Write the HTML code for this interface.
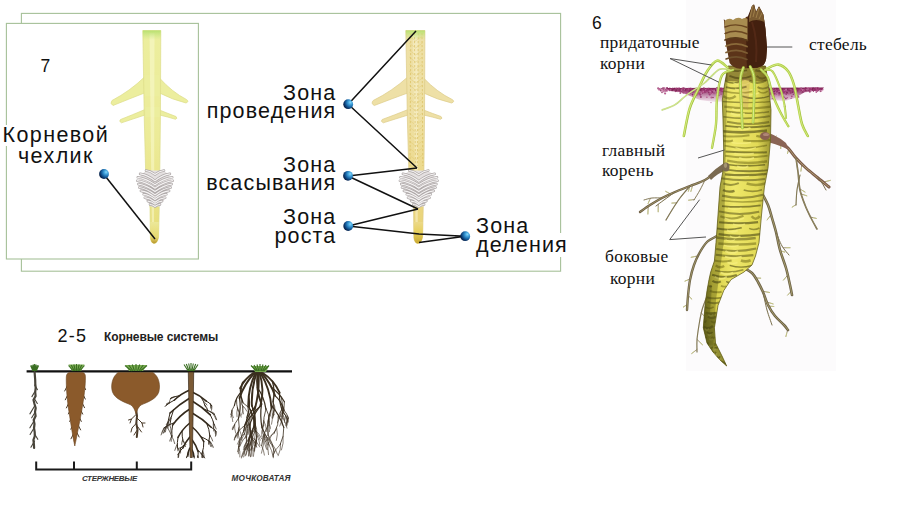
<!DOCTYPE html>
<html><head><meta charset="utf-8"><style>
html,body{margin:0;padding:0;background:#fff;}
body{width:910px;height:512px;position:relative;overflow:hidden;}
.s{position:absolute;font-family:"Liberation Sans",sans-serif;color:#111;white-space:nowrap;}
.z{font-size:21.5px;letter-spacing:1.15px;line-height:18.2px;text-align:right;}
.t{position:absolute;font-family:"Liberation Serif",serif;color:#111;white-space:nowrap;font-size:17.4px;line-height:21px;letter-spacing:0.3px;}
svg{position:absolute;left:0;top:0;}
</style></head><body>
<svg width="910" height="512" viewBox="0 0 910 512">
<defs>
<radialGradient id="dot" cx="0.72" cy="0.35" r="0.78" fx="0.72" fy="0.3">
 <stop offset="0" stop-color="#8ad8fb"/>
 <stop offset="0.25" stop-color="#45a6de"/>
 <stop offset="0.55" stop-color="#1a68a8"/>
 <stop offset="0.8" stop-color="#0a3468"/>
 <stop offset="1" stop-color="#04183a"/>
</radialGradient>
<linearGradient id="rootL" gradientUnits="userSpaceOnUse" x1="0" y1="30" x2="0" y2="244">
 <stop offset="0" stop-color="#ecee9e"/>
 <stop offset="0.5" stop-color="#eceb98"/>
 <stop offset="0.75" stop-color="#eae48a"/>
 <stop offset="1" stop-color="#e6dc78"/>
</linearGradient>
<linearGradient id="rootLx" x1="0" y1="0" x2="1" y2="0">
 <stop offset="0" stop-color="#fff" stop-opacity="0"/>
 <stop offset="0.45" stop-color="#fff" stop-opacity="0.35"/>
 <stop offset="1" stop-color="#c8c060" stop-opacity="0.25"/>
</linearGradient>
<linearGradient id="rootM" gradientUnits="userSpaceOnUse" x1="0" y1="30" x2="0" y2="244">
 <stop offset="0" stop-color="#eee0a6"/>
 <stop offset="0.45" stop-color="#eedfa0"/>
 <stop offset="0.7" stop-color="#ecd888"/>
 <stop offset="1" stop-color="#e8d272"/>
</linearGradient>
<linearGradient id="tipM" x1="0" y1="0" x2="0" y2="1">
 <stop offset="0" stop-color="#ecd98a"/>
 <stop offset="0.5" stop-color="#e6cf5a"/>
 <stop offset="1" stop-color="#c9a830"/>
</linearGradient>
<linearGradient id="tipL" x1="0" y1="0" x2="0" y2="1">
 <stop offset="0" stop-color="#ece89a"/>
 <stop offset="0.7" stop-color="#e6da70"/>
 <stop offset="1" stop-color="#b8952c"/>
</linearGradient>
<linearGradient id="gtip" x1="0" y1="0" x2="0" y2="1">
 <stop offset="0" stop-color="#b8e070" stop-opacity="1"/>
 <stop offset="1" stop-color="#c8e888" stop-opacity="0"/>
</linearGradient>
<linearGradient id="hr" x1="0" y1="0" x2="1" y2="0">
 <stop offset="0" stop-color="#8a8424"/>
 <stop offset="0.14" stop-color="#d6ce46"/>
 <stop offset="0.45" stop-color="#efe86a"/>
 <stop offset="0.8" stop-color="#e2da56"/>
 <stop offset="1" stop-color="#9a9430"/>
</linearGradient>
</defs>
<rect x="21.4" y="13.4" width="539.2" height="257.8" fill="#fff" stroke="#a6c199" stroke-width="1.1"/>
<rect x="6.4" y="23.4" width="192" height="235.6" fill="#fff" stroke="#a6c199" stroke-width="1.1"/>
<path d="M144.5,77 Q130,91 112,100.5 Q109.5,103.5 113,105.5 Q129,99 144.5,93 Z" fill="#ecee9e" stroke="#dcdc88" stroke-width="0.7" stroke-linejoin="round"/>
<path d="M159.5,78 Q172,92 186.5,99.5 Q189.5,101.5 186,103 Q172,99.5 159.5,93 Z" fill="#ecee9e" stroke="#dcdc88" stroke-width="0.7" stroke-linejoin="round"/>
<path d="M145,109.5 Q132,115 120.5,119.5 Q118.5,121.5 121.5,122.8 Q133,119 145,115 Z" fill="#ecee9e" stroke="#dcdc88" stroke-width="0.7" stroke-linejoin="round"/>
<path d="M159.5,110 Q168,113.5 176,116.5 Q178,118.5 175.5,119.3 Q168,117 159.5,115 Z" fill="#ecee9e" stroke="#dcdc88" stroke-width="0.7" stroke-linejoin="round"/>
<path d="M142.8,30.5 L160.8,30.5 L160.4,120 L159.8,170 L159.2,210 L158.6,237 Q157.5,243.5 154,243.5 Q151,243 150.4,238 L150,208 L145.6,170 L144.3,120 Z " fill="url(#rootL)" stroke="#dcdc88" stroke-width="0.7"/>
<path d="M144.9,75 L159.9,75 L159.9,96 L144.9,96 Z " fill="#ecee9e"/>
<path d="M145.2,107 L159.7,107 L159.7,117 L145.2,117 Z " fill="#ecee9e"/>
<path d="M149.5,33 L154.5,33 L154,236 L152,236 Z " fill="#fafad0" opacity="0.55"/>
<path d="M142.8,30.5 L160.8,30.5 L160.7,40 L142.9,40 Z " fill="url(#gtip)"/>
<path d="M150.3,222 L158.8,222 L158.6,237 Q157.5,243.5 154,243.5 Q151,243 150.4,238 Z " fill="url(#tipL)"/>
<path d="M147.3,171.5 L144.8,173.2 L142.3,174.9 L141.6,176.6 L140.4,178.3 L139.7,180 L139.9,181.7 L140.3,183.4 L140.9,185.1 L141.3,186.8 L141.5,188.5 L142,190.2 L143,191.9 L144.3,193.6 L145.4,195.3 L145.8,197 L146.3,198.7 L147.5,200.4 L149,202.1 L150.2,203.8 L150.7,205.5 L159.3,205.5 L159.8,203.8 L161,202.1 L162.5,200.4 L163.7,198.7 L164.2,197 L164.6,195.3 L165.7,193.6 L167,191.9 L168,190.2 L168.5,188.5 L168.7,186.8 L169.1,185.1 L169.7,183.4 L170.1,181.7 L170.3,180 L169.6,178.3 L168.4,176.6 L167.7,174.9 L165.2,173.2 L162.7,171.5 Z" fill="#e4e0e0" stroke="#e4e0e0" stroke-width="2" stroke-linejoin="round"/><path d="M155,174.5 Q150.5,170.9 146,170.5 M155,174.5 Q159.5,170.9 164,170.5 M155,180.9 Q147.5,174.9 140.1,173.9 M155,180.9 Q162.5,174.9 169.9,173.9 M155,184.8 Q146.4,178.4 137.8,177.3 M155,184.8 Q163.6,178.4 172.2,177.3 M155,188.2 Q146.1,181.8 137.2,180.7 M155,188.2 Q163.9,181.8 172.8,180.7 M155,191.6 Q146.7,185.2 138.4,184.1 M155,191.6 Q163.3,185.2 171.6,184.1 M155,194.9 Q147.1,188.6 139.2,187.5 M155,194.9 Q162.9,188.6 170.8,187.5 M155,197.4 Q148,191.8 140.9,190.9 M155,197.4 Q162,191.8 169.1,190.9 M155,199.5 Q149.3,194.9 143.7,194.3 M155,199.5 Q160.7,194.9 166.3,194.3 M155,202.3 Q149.9,198.2 144.8,197.7 M155,202.3 Q160.1,198.2 165.2,197.7 M155,204.1 Q151.5,201.3 147.9,201.1 M155,204.1 Q158.5,201.3 162.1,201.1 M155,206.5 Q152.5,204.5 150,204.5 M155,206.5 Q157.5,204.5 160,204.5" fill="none" stroke="#aea8a8" stroke-width="2.6" stroke-linecap="round"/><path d="M155,174.5 Q150.5,170.9 146,170.5 M155,174.5 Q159.5,170.9 164,170.5 M155,180.9 Q147.5,174.9 140.1,173.9 M155,180.9 Q162.5,174.9 169.9,173.9 M155,184.8 Q146.4,178.4 137.8,177.3 M155,184.8 Q163.6,178.4 172.2,177.3 M155,188.2 Q146.1,181.8 137.2,180.7 M155,188.2 Q163.9,181.8 172.8,180.7 M155,191.6 Q146.7,185.2 138.4,184.1 M155,191.6 Q163.3,185.2 171.6,184.1 M155,194.9 Q147.1,188.6 139.2,187.5 M155,194.9 Q162.9,188.6 170.8,187.5 M155,197.4 Q148,191.8 140.9,190.9 M155,197.4 Q162,191.8 169.1,190.9 M155,199.5 Q149.3,194.9 143.7,194.3 M155,199.5 Q160.7,194.9 166.3,194.3 M155,202.3 Q149.9,198.2 144.8,197.7 M155,202.3 Q160.1,198.2 165.2,197.7 M155,204.1 Q151.5,201.3 147.9,201.1 M155,204.1 Q158.5,201.3 162.1,201.1 M155,206.5 Q152.5,204.5 150,204.5 M155,206.5 Q157.5,204.5 160,204.5" fill="none" stroke="#f4f2f2" stroke-width="1.2" stroke-linecap="round"/>
<path d="M407.7,77 Q392.3,91 373.2,100.5 Q370.6,103.5 374.3,105.5 Q391.2,99 407.7,93 Z" fill="#eee0a6" stroke="#dccb88" stroke-width="0.7" stroke-linejoin="round"/>
<path d="M423.6,78 Q436.8,92 452.2,99.5 Q455.4,101.5 451.6,103 Q436.8,99.5 423.6,93 Z" fill="#eee0a6" stroke="#dccb88" stroke-width="0.7" stroke-linejoin="round"/>
<path d="M408.2,109.5 Q394.4,115 382.2,119.5 Q380.1,121.5 383.3,122.8 Q395.5,119 408.2,115 Z" fill="#eee0a6" stroke="#dccb88" stroke-width="0.7" stroke-linejoin="round"/>
<path d="M423.6,110 Q432.6,113.5 441,116.5 Q443.2,118.5 440.5,119.3 Q432.6,117 423.6,115 Z" fill="#eee0a6" stroke="#dccb88" stroke-width="0.7" stroke-linejoin="round"/>
<path d="M405.8,30.5 L424.9,30.5 L424.5,120 L423.9,170 L423.2,210 L422.6,237 Q421.4,243.5 417.7,243.5 Q414.5,243 413.9,238 L413.5,208 L408.8,170 L407.4,120 Z " fill="url(#rootM)" stroke="#dccb88" stroke-width="0.7"/>
<path d="M408.1,75 L424,75 L424,96 L408.1,96 Z " fill="#eee0a6"/>
<path d="M408.4,107 L423.8,107 L423.8,117 L408.4,117 Z " fill="#eee0a6"/>
<path d="M413,33 L418.2,33 L417.7,236 L415.6,236 Z " fill="#faf2d0" opacity="0.55"/>
<path d="M410.8,33 L410,166" stroke="#d8bc58" stroke-width="0.8" stroke-dasharray="2.2 1.8" fill="none" opacity="0.8"/><path d="M414.5,33 L415.4,166" stroke="#d8bc58" stroke-width="0.8" stroke-dasharray="2.2 1.8" fill="none" opacity="0.8"/><path d="M418.2,33 L417.4,166" stroke="#d8bc58" stroke-width="0.8" stroke-dasharray="2.2 1.8" fill="none" opacity="0.8"/><path d="M422,33 L422.8,166" stroke="#d8bc58" stroke-width="0.8" stroke-dasharray="2.2 1.8" fill="none" opacity="0.8"/><path d="M409.2,36 L415.6,41 L422.5,36" stroke="#dcc468" stroke-width="0.6" fill="none" opacity="0.6"/><path d="M409.2,43 L415.6,48 L422.5,43" stroke="#dcc468" stroke-width="0.6" fill="none" opacity="0.6"/><path d="M409.2,50 L415.6,55 L422.5,50" stroke="#dcc468" stroke-width="0.6" fill="none" opacity="0.6"/><path d="M409.2,57 L415.6,62 L422.5,57" stroke="#dcc468" stroke-width="0.6" fill="none" opacity="0.6"/><path d="M409.2,64 L415.6,69 L422.5,64" stroke="#dcc468" stroke-width="0.6" fill="none" opacity="0.6"/><path d="M409.2,71 L415.6,76 L422.5,71" stroke="#dcc468" stroke-width="0.6" fill="none" opacity="0.6"/><path d="M409.2,78 L415.6,83 L422.5,78" stroke="#dcc468" stroke-width="0.6" fill="none" opacity="0.6"/><path d="M409.2,85 L415.6,90 L422.5,85" stroke="#dcc468" stroke-width="0.6" fill="none" opacity="0.6"/><path d="M409.2,92 L415.6,97 L422.5,92" stroke="#dcc468" stroke-width="0.6" fill="none" opacity="0.6"/><path d="M409.2,99 L415.6,104 L422.5,99" stroke="#dcc468" stroke-width="0.6" fill="none" opacity="0.6"/><path d="M409.2,106 L415.6,111 L422.5,106" stroke="#dcc468" stroke-width="0.6" fill="none" opacity="0.6"/><path d="M409.2,113 L415.6,118 L422.5,113" stroke="#dcc468" stroke-width="0.6" fill="none" opacity="0.6"/><path d="M409.2,120 L415.6,125 L422.5,120" stroke="#dcc468" stroke-width="0.6" fill="none" opacity="0.6"/><path d="M409.2,127 L415.6,132 L422.5,127" stroke="#dcc468" stroke-width="0.6" fill="none" opacity="0.6"/><path d="M409.2,134 L415.6,139 L422.5,134" stroke="#dcc468" stroke-width="0.6" fill="none" opacity="0.6"/><path d="M409.2,141 L415.6,146 L422.5,141" stroke="#dcc468" stroke-width="0.6" fill="none" opacity="0.6"/><path d="M409.2,148 L415.6,153 L422.5,148" stroke="#dcc468" stroke-width="0.6" fill="none" opacity="0.6"/><path d="M409.2,155 L415.6,160 L422.5,155" stroke="#dcc468" stroke-width="0.6" fill="none" opacity="0.6"/>
<path d="M405.8,30.5 L424.9,30.5 L424.8,40 L406,40 Z " fill="url(#gtip)"/>
<path d="M413.8,222 L422.8,222 L422.6,237 Q421.4,243.5 417.7,243.5 Q414.5,243 413.9,238 Z " fill="url(#tipM)"/>
<path d="M410.7,171.5 L408,173.2 L405.3,174.9 L404.6,176.6 L403.3,178.3 L402.6,180 L402.8,181.7 L403.2,183.4 L403.8,185.1 L404.3,186.8 L404.5,188.5 L405,190.2 L406.1,191.9 L407.5,193.6 L408.6,195.3 L409,197 L409.6,198.7 L410.9,200.4 L412.4,202.1 L413.7,203.8 L414.2,205.5 L423.3,205.5 L423.9,203.8 L425.1,202.1 L426.7,200.4 L428,198.7 L428.5,197 L429,195.3 L430.1,193.6 L431.5,191.9 L432.6,190.2 L433.1,188.5 L433.3,186.8 L433.7,185.1 L434.3,183.4 L434.8,181.7 L435,180 L434.3,178.3 L433,176.6 L432.2,174.9 L429.6,173.2 L426.9,171.5 Z" fill="#e4e0e0" stroke="#e4e0e0" stroke-width="2" stroke-linejoin="round"/><path d="M418.8,174.8 Q414,171 409.2,170.5 M418.8,174.8 Q423.6,171 428.3,170.5 M418.8,181.3 Q410.9,175 402.9,173.9 M418.8,181.3 Q426.7,175 434.6,173.9 M418.8,184.8 Q409.7,178.4 400.5,177.3 M418.8,184.8 Q427.9,178.4 437,177.3 M418.8,188.2 Q409.4,181.8 399.9,180.7 M418.8,188.2 Q428.2,181.8 437.6,180.7 M418.8,191.6 Q410,185.2 401.2,184.1 M418.8,191.6 Q427.6,185.2 436.4,184.1 M418.8,195 Q410.4,188.6 402,187.5 M418.8,195 Q427.2,188.6 435.6,187.5 M418.8,197.9 Q411.3,191.9 403.9,190.9 M418.8,197.9 Q426.2,191.9 433.7,190.9 M418.8,199.8 Q412.8,195 406.8,194.3 M418.8,199.8 Q424.8,195 430.8,194.3 M418.8,202.6 Q413.4,198.3 408,197.7 M418.8,202.6 Q424.2,198.3 429.6,197.7 M418.8,204.3 Q415,201.3 411.3,201.1 M418.8,204.3 Q422.5,201.3 426.3,201.1 M418.8,206.7 Q416.1,204.5 413.4,204.5 M418.8,206.7 Q421.5,204.5 424.1,204.5" fill="none" stroke="#aea8a8" stroke-width="2.6" stroke-linecap="round"/><path d="M418.8,174.8 Q414,171 409.2,170.5 M418.8,174.8 Q423.6,171 428.3,170.5 M418.8,181.3 Q410.9,175 402.9,173.9 M418.8,181.3 Q426.7,175 434.6,173.9 M418.8,184.8 Q409.7,178.4 400.5,177.3 M418.8,184.8 Q427.9,178.4 437,177.3 M418.8,188.2 Q409.4,181.8 399.9,180.7 M418.8,188.2 Q428.2,181.8 437.6,180.7 M418.8,191.6 Q410,185.2 401.2,184.1 M418.8,191.6 Q427.6,185.2 436.4,184.1 M418.8,195 Q410.4,188.6 402,187.5 M418.8,195 Q427.2,188.6 435.6,187.5 M418.8,197.9 Q411.3,191.9 403.9,190.9 M418.8,197.9 Q426.2,191.9 433.7,190.9 M418.8,199.8 Q412.8,195 406.8,194.3 M418.8,199.8 Q424.8,195 430.8,194.3 M418.8,202.6 Q413.4,198.3 408,197.7 M418.8,202.6 Q424.2,198.3 429.6,197.7 M418.8,204.3 Q415,201.3 411.3,201.1 M418.8,204.3 Q422.5,201.3 426.3,201.1 M418.8,206.7 Q416.1,204.5 413.4,204.5 M418.8,206.7 Q421.5,204.5 424.1,204.5" fill="none" stroke="#f4f2f2" stroke-width="1.2" stroke-linecap="round"/>
<path d="M104,174.5 L155,239" stroke="#111" stroke-width="1.5" fill="none" stroke-linejoin="round"/>
<path d="M416,31 L348.2,104.2 L417,168" stroke="#111" stroke-width="1.5" fill="none" stroke-linejoin="round"/>
<path d="M417,168 L348,176 L418,209" stroke="#111" stroke-width="1.5" fill="none" stroke-linejoin="round"/>
<path d="M418,209 L348.2,226 L419,234 L465.2,236.2 L419,242.5" stroke="#111" stroke-width="1.5" fill="none" stroke-linejoin="round"/>
<circle cx="104" cy="174" r="4.9" fill="url(#dot)"/>
<circle cx="348.2" cy="104.2" r="4.9" fill="url(#dot)"/>
<circle cx="348" cy="175.8" r="4.9" fill="url(#dot)"/>
<circle cx="348.2" cy="226" r="4.9" fill="url(#dot)"/>
<circle cx="465.2" cy="236.2" r="4.9" fill="url(#dot)"/>
<path d="M26.6,371.4 L292,371.4" stroke="#111" stroke-width="2.4"/>
<g stroke="#48443a" fill="none" stroke-linecap="round"><path d="M34.6,372 L34.9,376 L35.2,380 L35.3,384 L35.7,388 L35.2,392 L35.6,396 L33.5,400 L34.5,404 L35.7,408 L35,412 L35.6,416 L33.7,420 L34.5,424 L34,428 L34.7,432 L34.8,436 L33.4,440 L33.9,444 L34.1,448" stroke-width="2.2"/><path d="M34.6,385 l2.8,4.6" stroke-width="1.1"/><path d="M34.6,392 l-2.7,4.6" stroke-width="1.1"/><path d="M34.6,399 l2.7,4.5" stroke-width="1.1"/><path d="M34.6,406 l-4.7,7.9" stroke-width="1.1"/><path d="M34.6,413 l-2.9,4.8" stroke-width="1.1"/><path d="M34.6,420 l-4.7,7.8" stroke-width="1.1"/><path d="M34.6,427 l-4.5,7.5" stroke-width="1.1"/><path d="M34.6,434 l3.2,5.3" stroke-width="1.1"/><path d="M34.6,441 l-3.7,6.2" stroke-width="1.1"/></g>
<g stroke="#4a3a28" fill="none" stroke-linecap="round"><path d="M67.7,385 l-3,6" stroke-width="1"/><path d="M83.3,385 l2.3,4.6" stroke-width="1"/><path d="M68.7,393 l-3.4,6.8" stroke-width="1"/><path d="M82.3,393 l3,6.1" stroke-width="1"/><path d="M69.8,401 l-3.4,6.9" stroke-width="1"/><path d="M81.2,401 l3.3,6.7" stroke-width="1"/><path d="M70.8,409 l-2.4,4.9" stroke-width="1"/><path d="M80.2,409 l2.5,5.1" stroke-width="1"/><path d="M71.9,417 l-2.2,4.5" stroke-width="1"/><path d="M79.1,417 l2.2,4.4" stroke-width="1"/><path d="M72.9,425 l-2.1,4.2" stroke-width="1"/><path d="M78.1,425 l2.5,4.9" stroke-width="1"/><path d="M73.9,433 l-2.9,5.8" stroke-width="1"/><path d="M77.1,433 l2,4" stroke-width="1"/></g>
<path d="M66.3,377 Q66.5,372.5 70,372.5 L82,372.5 Q85.5,372.5 85.4,377 C85.6,385 84,398 81.5,412 C79,425 76.5,438 74.8,446 C73,438 71,425 69,412 C67,400 66,385 66.3,377 Z" fill="#8b5a2b" stroke="#6a4420" stroke-width="0.6"/>
<g stroke="#4a3a28" fill="none" stroke-linecap="round"><path d="M136,408 L137,416 L136.3,423 L137.5,430 L136.8,437" stroke-width="2"/><path d="M136.6,414 L131.5,419 L130,423 M137,418 L142,423 L143,427 M136.6,423 L132,428 L131,432 M137.2,426 L141.5,432 M137.2,430 L134,435 M131.5,419 L128.5,420 M142,423 L145,423" stroke-width="1"/></g>
<path d="M118,372.5 C112,377 110.5,386 112.5,392 C115,399 124,402 131,405 C133.5,407 135,410 136,414 C137,410 138.5,407 141,405 C148,402 156.5,399 158.8,392 C160.5,386 159.5,377 153,372.5 Z" fill="#8b5a2b" stroke="#6a4420" stroke-width="0.6"/>
<g stroke="#33291c" fill="none" stroke-linecap="round" stroke-linejoin="round"><path d="M189.8,390 Q181,393.6 174.2,400.2" stroke-width="1.6"/><path d="M174.2,400.2 Q170.1,402.2 166.5,405.1" stroke-width="1"/><path d="M166.5,405.1 Q165.3,405.4 164.9,406.6" stroke-width="0.7"/><path d="M169.4,403 Q167.3,403.4 166,405.1" stroke-width="0.7"/><path d="M170.1,402.5 Q168,402.5 166.4,403.8" stroke-width="0.7"/><path d="M179.7,395.6 Q175,396.2 170.7,398.4" stroke-width="1"/><path d="M170.7,398.4 Q169.7,400.3 169.3,402.5" stroke-width="0.7"/><path d="M172.3,397.6 Q171,397.4 170.2,398.5" stroke-width="0.7"/><path d="M175.2,396.6 Q173.2,396.5 171.5,397.7" stroke-width="0.7"/><path d="M192.2,392 Q200,395.4 206.3,401.1" stroke-width="1.6"/><path d="M206.3,401.1 Q209.9,402.5 211.8,405.8" stroke-width="1"/><path d="M211.8,405.8 Q212.1,408.1 211.5,410.3" stroke-width="0.7"/><path d="M210.2,403.6 Q210.9,406 211,408.4" stroke-width="0.7"/><path d="M210.7,404.1 Q211.2,406 211.1,407.9" stroke-width="0.7"/><path d="M200.9,396.9 Q203.8,401.2 205.2,406.1" stroke-width="1"/><path d="M205.2,406.1 Q206.9,408.2 207.7,410.8" stroke-width="0.7"/><path d="M204.8,404.7 Q206.9,407.2 207.9,410.3" stroke-width="0.7"/><path d="M203.3,401 Q205.5,402.7 207,405" stroke-width="0.7"/><path d="M189.8,398 Q179.1,404.4 170,413" stroke-width="1.6"/><path d="M170,413 Q167.7,420.3 167.8,428" stroke-width="1"/><path d="M167.8,428 Q170.3,432 171.7,436.5" stroke-width="0.7"/><path d="M168,422.7 Q165.9,427.1 165.4,431.9" stroke-width="0.7"/><path d="M167.9,425 Q165.1,428.9 163.1,433.4" stroke-width="0.7"/><path d="M173.6,409.7 Q170.7,417.1 169.8,424.9" stroke-width="1"/><path d="M169.8,424.9 Q171.3,428.8 171.2,432.9" stroke-width="0.7"/><path d="M171.4,416.5 Q168.4,420.3 166.3,424.6" stroke-width="0.7"/><path d="M170.9,418.4 Q167.9,422.3 165.9,426.9" stroke-width="0.7"/><path d="M192.2,401 Q202.1,406.8 210.3,414.9" stroke-width="1.6"/><path d="M210.3,414.9 Q212.9,419.6 214.2,424.8" stroke-width="1"/><path d="M214.2,424.8 Q213.6,427.9 213.7,431" stroke-width="0.7"/><path d="M214.1,424.2 Q215.4,426.5 216.2,429" stroke-width="0.7"/><path d="M213.4,422 Q213,424.9 213.5,427.8" stroke-width="0.7"/><path d="M203.8,409 Q209.6,410.7 214.4,414.4" stroke-width="1"/><path d="M214.4,414.4 Q215.9,417 216.7,419.8" stroke-width="0.7"/><path d="M209.6,411.3 Q212.4,411.7 214.5,413.6" stroke-width="0.7"/><path d="M212.3,412.9 Q214.9,415.9 216.2,419.6" stroke-width="0.7"/><path d="M189.8,409 Q179.6,415.3 172.6,425.1" stroke-width="1.6"/><path d="M172.6,425.1 Q171.4,430.8 171.9,436.6" stroke-width="1"/><path d="M171.9,436.6 Q173.9,439.9 174.7,443.6" stroke-width="0.7"/><path d="M171.9,435.8 Q170.5,438.3 169.7,441" stroke-width="0.7"/><path d="M171.8,435.5 Q171,438.4 171.2,441.4" stroke-width="0.7"/><path d="M174.6,422.5 Q168.9,424.4 164,427.9" stroke-width="1"/><path d="M164,427.9 Q162.1,431.2 161.1,434.9" stroke-width="0.7"/><path d="M166,426.5 Q164.6,429.4 164.1,432.5" stroke-width="0.7"/><path d="M165,427.2 Q163.3,429.5 162.4,432.2" stroke-width="0.7"/><path d="M192.2,413 Q202.7,418.8 211.2,427.3" stroke-width="1.6"/><path d="M211.2,427.3 Q214.5,428.6 216.2,431.8" stroke-width="1"/><path d="M216.2,431.8 Q216.3,434.1 215.5,436.3" stroke-width="0.7"/><path d="M214.7,429.6 Q215.2,431.4 215.3,433.3" stroke-width="0.7"/><path d="M215.6,430.8 Q216.1,433 215.8,435.3" stroke-width="0.7"/><path d="M206.6,423 Q209.4,429.2 209.9,436.1" stroke-width="1"/><path d="M209.9,436.1 Q208.7,440.2 208.7,444.4" stroke-width="0.7"/><path d="M209.8,435.2 Q211.8,437.8 212.7,441" stroke-width="0.7"/><path d="M209.8,435.3 Q208.8,439.5 208.8,443.8" stroke-width="0.7"/><path d="M189.8,423 Q182.4,429 178,437.4" stroke-width="1.6"/><path d="M178,437.4 Q177,442.6 177.4,447.9" stroke-width="1"/><path d="M177.4,447.9 Q179.2,450.3 180.2,453.1" stroke-width="0.7"/><path d="M177.3,444 Q175.7,447.1 174.8,450.4" stroke-width="0.7"/><path d="M177.3,445.4 Q178.2,448.1 177.9,450.9" stroke-width="0.7"/><path d="M182.1,430.9 Q181.8,436.2 183.1,441.4" stroke-width="1"/><path d="M183.1,441.4 Q184.8,443.8 185.5,446.6" stroke-width="0.7"/><path d="M182.7,439.5 Q181.7,441.9 181.6,444.4" stroke-width="0.7"/><path d="M182.9,440.5 Q184.7,442.3 186,444.5" stroke-width="0.7"/><path d="M192.2,427 Q199.4,433.2 203.8,441.6" stroke-width="1.6"/><path d="M203.8,441.6 Q204.1,447.5 202.2,453" stroke-width="1"/><path d="M202.2,453 Q202.5,455.2 202.3,457.3" stroke-width="0.7"/><path d="M202.5,452.2 Q203,454.9 202.8,457.7" stroke-width="0.7"/><path d="M202.9,450.9 Q204,454.1 204.3,457.5" stroke-width="0.7"/><path d="M200.8,436.6 Q206.1,438.8 210.7,442.2" stroke-width="1"/><path d="M210.7,442.2 Q212.4,444.6 213.4,447.3" stroke-width="0.7"/><path d="M208.5,440.6 Q210,443.4 210.7,446.5" stroke-width="0.7"/><path d="M209.3,441.2 Q211.1,443.9 212.1,447" stroke-width="0.7"/><path d="M189.8,437 Q185.6,442 182.9,447.9" stroke-width="1.6"/><path d="M182.9,447.9 Q180,450.7 178.1,454.4" stroke-width="1"/><path d="M178.1,454.4 Q178.3,455.9 178.2,457.4" stroke-width="0.7"/><path d="M179.4,452.2 Q178.8,454.2 178.7,456.3" stroke-width="0.7"/><path d="M178.4,453.8 Q178.6,455.7 178.3,457.6" stroke-width="0.7"/><path d="M184.5,444.7 Q181.9,446.3 180.2,448.8" stroke-width="1"/><path d="M180.2,448.8 Q180.1,450.4 180.6,452" stroke-width="0.7"/><path d="M180.4,448.5 Q179.9,450.4 180.1,452.3" stroke-width="0.7"/><path d="M181.5,447.2 Q179.6,447.7 178,448.9" stroke-width="0.7"/><path d="M192.2,440 Q196.1,445.2 198.1,451.4" stroke-width="1.6"/><path d="M198.1,451.4 Q198.4,454.3 197.7,457.2" stroke-width="1"/><path d="M197.9,456.2 Q198.2,456.9 198.3,457.7" stroke-width="0.7"/><path d="M198,455.9 Q198.1,456.7 198,457.6" stroke-width="0.7"/><path d="M197.5,449.7 Q200.7,452.5 203.1,455.9" stroke-width="1"/><path d="M203.1,455.9 Q203.1,456.8 203.1,457.6" stroke-width="0.7"/><path d="M203,455.9 Q204.3,456.6 204.8,458" stroke-width="0.7"/><path d="M201,453.2 Q201.8,455.3 202,457.5" stroke-width="0.7"/><path d="M189.8,448 Q188.3,451.2 187.7,454.6" stroke-width="1.6"/><path d="M187.7,454.6 Q186.8,456 186.5,457.7" stroke-width="1"/><path d="M188.1,452.8 Q188.3,454.7 188,456.5" stroke-width="1"/><path d="M188.1,454.8 Q187.6,455.6 187.2,456.5" stroke-width="0.7"/><path d="M192.2,450 Q193.8,453.1 193.9,456.6" stroke-width="1.6"/><path d="M193.9,455.9 Q194.3,456.9 194.3,458" stroke-width="1"/></g>
<path d="M188.3,372 L193.7,372 L193,420 L192.3,457.5 L190.2,457.5 L189.2,420 Z" fill="#7b5a35" stroke="#3a2a18" stroke-width="0.7"/>
<g stroke="#3a2e1e" fill="none" stroke-linecap="round" stroke-linejoin="round"><path d="M253.2,373 Q244.7,378.7 240.2,388.1" stroke-width="1.9"/><path d="M240.2,388.1 Q239.9,395.7 243,402.8" stroke-width="1.2"/><path d="M243,402.8 Q247.7,406.1 251.3,410.7" stroke-width="0.8"/><path d="M251.3,410.7 Q252.1,415.1 251,419.4" stroke-width="0.6"/><path d="M247.7,406.7 Q248.6,410.5 247.9,414.4" stroke-width="0.6"/><path d="M250.1,409.1 Q251.8,413 251.8,417.2" stroke-width="0.6"/><path d="M241.1,397.1 Q240.8,402.4 242.8,407.2" stroke-width="0.8"/><path d="M242.8,407.2 Q243.2,411.3 241.6,415.1" stroke-width="0.6"/><path d="M242.8,407.1 Q242.6,410.6 243.5,413.9" stroke-width="0.6"/><path d="M242,404.9 Q245,407.6 246.9,411.3" stroke-width="0.6"/><path d="M245.3,380.1 Q242.5,381.6 241.8,384.7" stroke-width="1.2"/><path d="M241.8,384.7 Q242,386.8 241.6,388.8" stroke-width="0.8"/><path d="M241.6,388.8 Q241.8,390.3 241.4,391.8" stroke-width="0.6"/><path d="M241.6,388.5 Q241.8,389.8 241.6,391.1" stroke-width="0.6"/><path d="M241.8,386.6 Q240.9,387.9 240.8,389.4" stroke-width="0.6"/><path d="M254.4,373 Q244.2,383.9 239.5,398.1" stroke-width="1.9"/><path d="M239.5,398.1 Q241.3,408.3 238.5,418.3" stroke-width="1.2"/><path d="M238.5,418.3 Q239.9,426.3 238.3,434.3" stroke-width="0.8"/><path d="M238.3,434.3 Q240.3,439.5 239.1,444.9" stroke-width="0.6"/><path d="M239.1,428.8 Q241.7,434.4 242.1,440.5" stroke-width="0.6"/><path d="M239.2,426.9 Q237.1,432.3 237.2,438.1" stroke-width="0.6"/><path d="M238.6,418.1 Q234.4,423.3 232.6,429.7" stroke-width="0.8"/><path d="M234.6,424.3 Q234.3,428.8 235.7,433.1" stroke-width="0.6"/><path d="M234.1,425.3 Q232.4,426.7 232.2,428.9" stroke-width="0.6"/><path d="M242.4,390.7 Q235.9,396.7 234.4,405.5" stroke-width="1.2"/><path d="M234.4,405.5 Q231.6,409.5 231,414.3" stroke-width="0.8"/><path d="M231,414.3 Q232.6,417.8 232.8,421.6" stroke-width="0.6"/><path d="M232.1,410 Q232.5,413.7 230.9,417.1" stroke-width="0.6"/><path d="M231.8,410.6 Q231.7,414.3 233.3,417.7" stroke-width="0.6"/><path d="M236.5,398.6 Q236.2,404.5 238,410.1" stroke-width="0.8"/><path d="M238,410.1 Q240.4,413.2 241.2,417.1" stroke-width="0.6"/><path d="M237.3,407.5 Q239.4,411.5 239.3,416" stroke-width="0.6"/><path d="M237.5,408.3 Q236.3,412.5 237,416.8" stroke-width="0.6"/><path d="M255.5,373 Q247.9,388.8 248.3,406.2" stroke-width="1.9"/><path d="M248.3,406.2 Q254.6,415.9 254.8,427.5" stroke-width="1.2"/><path d="M254.8,427.5 Q257.5,435.6 256.3,444" stroke-width="0.8"/><path d="M256.3,444 Q253.3,449.9 253.4,456.4" stroke-width="0.6"/><path d="M256.6,439.9 Q254.4,445 254.6,450.6" stroke-width="0.6"/><path d="M256.6,440.2 Q253.9,445.7 254.2,451.8" stroke-width="0.6"/><path d="M253.4,417.5 Q252.8,424.9 255.8,431.6" stroke-width="0.8"/><path d="M255.8,431.6 Q258.9,435.4 260.3,440.2" stroke-width="0.6"/><path d="M255.2,430.1 Q259.4,433.8 261.7,438.8" stroke-width="0.6"/><path d="M255.2,430 Q255.6,435.1 254.3,440" stroke-width="0.6"/><path d="M248.8,396 Q250.9,406.9 246.9,417.3" stroke-width="1.2"/><path d="M246.9,417.3 Q247.3,426 244.4,434.3" stroke-width="0.8"/><path d="M244.4,434.3 Q240.1,439.6 239.6,446.5" stroke-width="0.6"/><path d="M244.7,433.2 Q239.4,437.5 237.4,444.1" stroke-width="0.6"/><path d="M246.2,427.6 Q247.2,433.2 245.1,438.5" stroke-width="0.6"/><path d="M248.7,411.2 Q250.3,418.4 248.1,425.5" stroke-width="0.8"/><path d="M248.1,425.5 Q248.9,430.3 246.9,434.7" stroke-width="0.6"/><path d="M248.6,424 Q245,427.9 242.9,432.8" stroke-width="0.6"/><path d="M248.8,422.9 Q249.7,428.7 248.3,434.3" stroke-width="0.6"/><path d="M256.6,373 Q251.1,388.9 251.9,405.8" stroke-width="1.9"/><path d="M251.9,405.8 Q256.4,418.1 255,431.1" stroke-width="1.2"/><path d="M255,431.1 Q250,440.3 249.2,450.6" stroke-width="0.8"/><path d="M249.2,450.6 Q250.4,453.6 250.4,456.8" stroke-width="0.6"/><path d="M250.7,442 Q246.9,448.5 245.2,455.9" stroke-width="0.6"/><path d="M250,444.9 Q246.7,449.5 246,455.1" stroke-width="0.6"/><path d="M255.2,428.2 Q249.2,436.1 247.6,445.8" stroke-width="0.8"/><path d="M247.6,445.8 Q249.3,450.8 248.5,456.1" stroke-width="0.6"/><path d="M247.8,444.4 Q242.6,450.2 241.5,458" stroke-width="0.6"/><path d="M248.1,443.3 Q244.5,449.7 243.6,457" stroke-width="0.6"/><path d="M251.9,405.2 Q255.9,415 254.8,425.5" stroke-width="1.2"/><path d="M254.8,425.5 Q249.7,431.8 248.6,439.8" stroke-width="0.8"/><path d="M248.6,439.8 Q250,445.4 249.1,451" stroke-width="0.6"/><path d="M248.7,439.4 Q244.9,443.8 243.4,449.4" stroke-width="0.6"/><path d="M249.1,437.1 Q249.7,443.5 247.2,449.4" stroke-width="0.6"/><path d="M255,423.2 Q257.4,429.4 256.9,436.1" stroke-width="0.8"/><path d="M256.9,436.1 Q255.2,440.8 255.2,445.7" stroke-width="0.6"/><path d="M256.9,435.4 Q259.4,440.1 260,445.4" stroke-width="0.6"/><path d="M256.9,436 Q255.1,440.5 255.8,445.3" stroke-width="0.6"/><path d="M257.6,373 Q255.5,389.1 261.5,404.2" stroke-width="1.9"/><path d="M261.5,404.2 Q259.8,416 262,427.8" stroke-width="1.2"/><path d="M262,427.8 Q267,435.8 269.1,445" stroke-width="0.8"/><path d="M269.1,445 Q272,450.4 273.1,456.5" stroke-width="0.6"/><path d="M268.3,442.2 Q267.3,448.4 268.5,454.6" stroke-width="0.6"/><path d="M266.2,436 Q271.1,440.6 272.6,447" stroke-width="0.6"/><path d="M261.5,425 Q264.8,431.9 264.9,439.5" stroke-width="0.8"/><path d="M264.9,439.5 Q267.1,444.4 267.4,449.7" stroke-width="0.6"/><path d="M264.6,435.2 Q266.9,439.8 267.6,445" stroke-width="0.6"/><path d="M264.3,433.6 Q268.4,438.2 270.6,443.8" stroke-width="0.6"/><path d="M257.3,387.4 Q264.3,397.2 265.9,409.2" stroke-width="1.2"/><path d="M265.9,409.2 Q263.2,417.3 263.6,425.8" stroke-width="0.8"/><path d="M263.6,425.8 Q261.3,430.9 261.7,436.4" stroke-width="0.6"/><path d="M263.6,421.6 Q261.8,427.3 262.2,433.3" stroke-width="0.6"/><path d="M263.6,420.3 Q266.5,425.4 266.5,431.4" stroke-width="0.6"/><path d="M265.7,407.7 Q269.4,414.3 269.2,421.9" stroke-width="0.8"/><path d="M269.2,421.9 Q270.8,426.8 269.5,431.7" stroke-width="0.6"/><path d="M269.1,418.6 Q268.3,423.6 270.2,428.4" stroke-width="0.6"/><path d="M268.9,417 Q267.1,421.4 267.5,426.1" stroke-width="0.6"/><path d="M258.5,373 Q259.8,391.3 254.8,409" stroke-width="1.9"/><path d="M254.8,409 Q255.5,421.8 251.9,434.1" stroke-width="1.2"/><path d="M251.9,434.1 Q253,442.1 251.3,449.9" stroke-width="0.8"/><path d="M251.3,449.9 Q251.5,453.2 250.7,456.5" stroke-width="0.6"/><path d="M251.8,447 Q249.1,450.9 249,455.7" stroke-width="0.6"/><path d="M251.6,448.4 Q252.4,452.3 252,456.2" stroke-width="0.6"/><path d="M253.3,428.3 Q249.2,436.6 247.8,445.7" stroke-width="0.8"/><path d="M247.8,445.7 Q243.9,450.8 241.7,456.9" stroke-width="0.6"/><path d="M248.3,442.8 Q244.6,448 243.6,454.3" stroke-width="0.6"/><path d="M249.9,436.9 Q245.9,441.5 243.8,447.1" stroke-width="0.6"/><path d="M255.7,405.9 Q245.8,416.5 243.7,430.9" stroke-width="1.2"/><path d="M243.7,430.9 Q238.8,440.8 237.7,451.8" stroke-width="0.8"/><path d="M238.5,446.4 Q240.6,451.5 239.9,457" stroke-width="0.6"/><path d="M239,444.1 Q239.3,449 238.4,453.8" stroke-width="0.6"/><path d="M246.8,419.5 Q248.6,428.5 246.5,437.4" stroke-width="0.8"/><path d="M246.5,437.4 Q247.4,443.5 246.3,449.5" stroke-width="0.6"/><path d="M246.7,436.6 Q247.1,443.5 244.2,449.7" stroke-width="0.6"/><path d="M247,435 Q242.3,440.1 239.6,446.5" stroke-width="0.6"/><path d="M259.5,373 Q264.9,389.5 260.3,406.2" stroke-width="1.9"/><path d="M260.3,406.2 Q253.4,414.7 249.4,424.9" stroke-width="1.2"/><path d="M249.4,424.9 Q248.9,433 251.8,440.5" stroke-width="0.8"/><path d="M251.8,440.5 Q251.3,445.8 253.1,450.9" stroke-width="0.6"/><path d="M251.3,439.1 Q250.9,444.3 253.3,449" stroke-width="0.6"/><path d="M250.8,437.5 Q254.8,441.2 256.3,446.4" stroke-width="0.6"/><path d="M250.6,422.1 Q249.5,429.7 251.2,437.1" stroke-width="0.8"/><path d="M251.2,437.1 Q255.2,441.5 256.8,447.3" stroke-width="0.6"/><path d="M250.5,433.4 Q248.2,437.9 248.4,443" stroke-width="0.6"/><path d="M250.7,435 Q253.5,440.1 254.2,445.9" stroke-width="0.6"/><path d="M260.3,406.1 Q250.6,414.4 244.5,425.8" stroke-width="1.2"/><path d="M244.5,425.8 Q238.1,429.7 235.7,436.8" stroke-width="0.8"/><path d="M235.7,436.8 Q234.5,438.2 234.5,440" stroke-width="0.6"/><path d="M236.2,435.4 Q234.5,437.3 234.1,439.8" stroke-width="0.6"/><path d="M237.7,432.4 Q235.4,434.3 234.9,437.2" stroke-width="0.6"/><path d="M249.9,417.3 Q248.6,427 251.7,436.2" stroke-width="0.8"/><path d="M251.7,436.2 Q256.5,441 259.8,447" stroke-width="0.6"/><path d="M250.4,431.7 Q248.9,438.3 250.5,444.9" stroke-width="0.6"/><path d="M249.7,427 Q252,432.9 252.3,439.2" stroke-width="0.6"/><path d="M260.5,373 Q270.3,389.1 271.5,407.9" stroke-width="1.9"/><path d="M271.5,407.9 Q266.8,421.2 268.1,435.2" stroke-width="1.2"/><path d="M268.1,435.2 Q272.8,442.9 274.3,451.8" stroke-width="0.8"/><path d="M274.3,451.8 Q273.2,454.3 273.2,456.9" stroke-width="0.6"/><path d="M272.3,444.1 Q275.8,448.8 277.5,454.4" stroke-width="0.6"/><path d="M273.7,448.9 Q272.7,453.3 273.3,457.8" stroke-width="0.6"/><path d="M267.9,425.5 Q262.2,434.8 261.6,445.6" stroke-width="0.8"/><path d="M261.6,445.6 Q263.9,450.1 264.4,455.1" stroke-width="0.6"/><path d="M263.7,434.6 Q263.3,442.2 266.5,449.2" stroke-width="0.6"/><path d="M263.1,436.6 Q264.6,445.1 261.5,453.2" stroke-width="0.6"/><path d="M271.3,405.2 Q279.6,415.2 283.8,427.4" stroke-width="1.2"/><path d="M283.8,427.4 Q284.3,436.5 280.2,444.5" stroke-width="0.8"/><path d="M280.2,444.5 Q275.6,448.9 273.2,454.8" stroke-width="0.6"/><path d="M283.1,436.3 Q283.9,443.3 281.5,449.9" stroke-width="0.6"/><path d="M280.6,443.6 Q281,450 278.2,455.8" stroke-width="0.6"/><path d="M278.5,415.6 Q279,425 274.3,433.2" stroke-width="0.8"/><path d="M274.3,433.2 Q268.9,436.4 265.3,441.5" stroke-width="0.6"/><path d="M276.7,428 Q278.3,434.3 276.4,440.4" stroke-width="0.6"/><path d="M276,429.7 Q271.2,434.2 269,440.4" stroke-width="0.6"/><path d="M261.6,373 Q270.7,382.9 275,395.6" stroke-width="1.9"/><path d="M275,395.6 Q281.7,401.5 284,410.1" stroke-width="1.2"/><path d="M284,410.1 Q287.4,413.7 288.3,418.6" stroke-width="0.8"/><path d="M288.3,418.6 Q287.1,421.7 287,425" stroke-width="0.6"/><path d="M287.4,415.5 Q288.2,416.4 288.3,417.7" stroke-width="0.6"/><path d="M288.1,417.6 Q288,419 288.1,420.5" stroke-width="0.6"/><path d="M282.2,405.2 Q281.7,411.9 283.1,418.5" stroke-width="0.8"/><path d="M283.1,418.5 Q286,422.9 287,428.1" stroke-width="0.6"/><path d="M282.7,416.1 Q281.3,420.6 282.2,425.1" stroke-width="0.6"/><path d="M282.2,412.8 Q285,417.4 284.8,422.7" stroke-width="0.6"/><path d="M271.6,387.6 Q279.5,393.4 284.4,401.8" stroke-width="1.2"/><path d="M284.4,401.8 Q284.8,409.6 281.7,416.8" stroke-width="0.8"/><path d="M281.7,416.8 Q282,421.7 279.8,426.1" stroke-width="0.6"/><path d="M283.3,412.5 Q279.3,416.9 277.5,422.6" stroke-width="0.6"/><path d="M283.8,410.4 Q280.4,413.9 278.7,418.4" stroke-width="0.6"/><path d="M281.3,397.1 Q283.2,403.2 281.9,409.5" stroke-width="0.8"/><path d="M281.9,409.5 Q279.3,413 278,417.1" stroke-width="0.6"/><path d="M282.2,408 Q280.1,411.8 279.9,416.1" stroke-width="0.6"/><path d="M282.4,405.2 Q284.1,409.4 284.1,413.9" stroke-width="0.6"/><path d="M262.8,373 Q274.1,380.3 279.6,392.6" stroke-width="1.9"/><path d="M279.6,392.6 Q278.9,402.9 283,412.3" stroke-width="1.2"/><path d="M283,412.3 Q286.2,415.2 287.3,419.4" stroke-width="0.8"/><path d="M287.3,419.4 Q286.5,422.7 286.7,426.1" stroke-width="0.6"/><path d="M287.2,418.8 Q287.3,421.5 286.1,423.9" stroke-width="0.6"/><path d="M285.6,415.3 Q285.7,418 284.7,420.5" stroke-width="0.6"/><path d="M282.9,411.9 Q287,415.8 288,421.3" stroke-width="0.8"/><path d="M287.2,418.4 Q287.4,422.2 285.9,425.8" stroke-width="0.6"/><path d="M288,421.3 Q287.9,422 287.9,422.8" stroke-width="0.6"/><path d="M272.3,381.2 Q275.5,391.2 273.2,401.5" stroke-width="1.2"/><path d="M273.2,401.5 Q274.8,408 273.9,414.6" stroke-width="0.8"/><path d="M273.9,414.6 Q271.9,419.2 271.5,424.2" stroke-width="0.6"/><path d="M274.2,409.9 Q272.7,413.9 272.5,418.1" stroke-width="0.6"/><path d="M274.2,410.2 Q271.9,413.8 271.9,418" stroke-width="0.6"/><path d="M274.1,393.1 Q272.3,399.9 273.1,406.9" stroke-width="0.8"/><path d="M273.1,406.9 Q272.5,411.3 273.5,415.7" stroke-width="0.6"/><path d="M273,405.7 Q270.4,410.6 270.3,416.2" stroke-width="0.6"/><path d="M272.9,401.8 Q275.3,406 275.2,410.8" stroke-width="0.6"/></g>
<path d="M33,371 L30.6,365.5 M33.5,371 L31.9,365 M34.1,371 L33.3,364.5 M34.6,371 L34.6,364 M35.1,371 L35.9,364.5 M35.7,371 L37.3,365 M36.2,371 L38.6,365.5" stroke="#3a6e22" stroke-width="1.1" fill="none"/>
<path d="M68.5,364.5 L84.5,364.5 L81,371 L72,371 Z" fill="#7aac52"/><path d="M73.3,371 L68.5,365.5 M74.4,371 L71.2,365 M75.4,371 L73.8,364.5 M76.5,371 L76.5,364 M77.6,371 L79.2,364.5 M78.6,371 L81.8,365 M79.7,371 L84.5,365.5" stroke="#3a6e22" stroke-width="1.1" fill="none"/>
<path d="M125.5,365 L147,365 L143,371 L129,371 Z" fill="#7aac52"/><path d="M131.6,371 L125,365.5 M133.1,371 L128.7,365 M134.5,371 L132.3,364.5 M136,371 L136,364 M137.5,371 L139.7,364.5 M138.9,371 L143.3,365 M140.4,371 L147,365.5" stroke="#3a6e22" stroke-width="1.1" fill="none"/>
<path d="M188.2,371 L184,364.5 M189.1,371 L186.3,364 M190.1,371 L188.7,363.5 M191,371 L191,363 M191.9,371 L193.3,363.5 M192.9,371 L195.7,364 M193.8,371 L198,364.5" stroke="#3a6e22" stroke-width="1.1" fill="none"/>
<path d="M252,366 L269,366 L266,372 L255,372 Z" fill="#7aac52"/><path d="M256.4,371 L251,365.5 M257.6,371 L254,365 M258.8,371 L257,364.5 M260,371 L260,364 M261.2,371 L263,364.5 M262.4,371 L266,365 M263.6,371 L269,365.5" stroke="#3a6e22" stroke-width="1.1" fill="none"/>
<path d="M36.2,461.5 L36.2,469.6 L191.2,469.6 L191.2,461.5 M74,461.5 L74,469.6 M136.8,461.5 L136.8,469.6" stroke="#1a1a1a" stroke-width="2" fill="none"/>
<rect x="686" y="0" width="150" height="371" fill="#fcfbfc"/>
<linearGradient id="soil" x1="0" y1="0" x2="0" y2="1"><stop offset="0" stop-color="#7a1e50" stop-opacity="1"/><stop offset="0.3" stop-color="#8a2a62" stop-opacity="0.8"/><stop offset="1" stop-color="#b86898" stop-opacity="0.15"/></linearGradient>
<path d="M666,88 L824,87.5 L822,90 L805,92 L795,98 L785,101 L770,100 L760,100 L735,101 L715,102 L700,100 L690,96 L680,92 L670,91 Z" fill="url(#soil)"/>
<g opacity="0.8"><circle cx="789.9" cy="89.5" r="1" fill="#8e2a62"/><circle cx="706.2" cy="91" r="1.1" fill="#a83a78"/><circle cx="697.2" cy="94.2" r="0.5" fill="#b04a80"/><circle cx="662.7" cy="89.1" r="1.1" fill="#9a3070"/><circle cx="788.8" cy="93.7" r="0.7" fill="#b04a80"/><circle cx="711" cy="102.6" r="0.6" fill="#b04a80"/><circle cx="746.1" cy="88.8" r="0.5" fill="#9a3070"/><circle cx="773" cy="90.8" r="1" fill="#a83a78"/><circle cx="774.2" cy="95.6" r="1.1" fill="#c878a8"/><circle cx="693" cy="92" r="0.7" fill="#8e2a62"/><circle cx="673.7" cy="88.9" r="1" fill="#a83a78"/><circle cx="818.6" cy="88.2" r="0.7" fill="#c878a8"/><circle cx="786.2" cy="90.2" r="1.1" fill="#8e2a62"/><circle cx="794.7" cy="88.7" r="1" fill="#7a2050"/><circle cx="781.9" cy="93.2" r="0.6" fill="#7a2050"/><circle cx="724.4" cy="89.8" r="0.6" fill="#7a2050"/><circle cx="660.1" cy="88.7" r="0.9" fill="#c878a8"/><circle cx="717.1" cy="88.1" r="1.1" fill="#8e2a62"/><circle cx="700.2" cy="93.8" r="0.8" fill="#c878a8"/><circle cx="735.8" cy="88.1" r="0.9" fill="#8e2a62"/><circle cx="682.3" cy="88.4" r="0.8" fill="#b04a80"/><circle cx="810.4" cy="88.1" r="1" fill="#a83a78"/><circle cx="658.1" cy="88.3" r="1" fill="#8e2a62"/><circle cx="773.7" cy="90.4" r="0.6" fill="#c878a8"/><circle cx="810.5" cy="89.7" r="0.8" fill="#9a3070"/><circle cx="697.5" cy="90.9" r="0.6" fill="#8e2a62"/><circle cx="684.7" cy="88.4" r="1" fill="#c878a8"/><circle cx="740.7" cy="89.2" r="0.7" fill="#a83a78"/><circle cx="775.5" cy="92.2" r="0.7" fill="#8e2a62"/><circle cx="735.8" cy="91.1" r="0.7" fill="#a83a78"/><circle cx="703.6" cy="90.8" r="0.9" fill="#8e2a62"/><circle cx="663.9" cy="88.4" r="0.9" fill="#8e2a62"/><circle cx="672.8" cy="89.9" r="0.9" fill="#7a2050"/><circle cx="685.3" cy="89.9" r="1.1" fill="#7a2050"/><circle cx="704.8" cy="92" r="1" fill="#7a2050"/><circle cx="690" cy="91.9" r="1" fill="#7a2050"/><circle cx="797.5" cy="90" r="0.6" fill="#a83a78"/><circle cx="711.4" cy="97.4" r="1" fill="#b04a80"/><circle cx="818.1" cy="88.3" r="0.8" fill="#c878a8"/><circle cx="784.7" cy="106.5" r="0.9" fill="#7a2050"/><circle cx="741.2" cy="95.3" r="0.7" fill="#c878a8"/><circle cx="802.4" cy="90.7" r="1" fill="#c878a8"/><circle cx="709" cy="93.9" r="0.6" fill="#b04a80"/><circle cx="811.4" cy="89.6" r="0.9" fill="#9a3070"/><circle cx="808.3" cy="90.4" r="0.9" fill="#8e2a62"/><circle cx="745.1" cy="91.1" r="1" fill="#a83a78"/><circle cx="677.8" cy="88.4" r="1" fill="#c878a8"/><circle cx="817.9" cy="89.1" r="0.5" fill="#a83a78"/><circle cx="778.8" cy="91.8" r="1" fill="#b04a80"/><circle cx="671" cy="89.1" r="0.8" fill="#a83a78"/><circle cx="779.6" cy="92.9" r="1" fill="#7a2050"/><circle cx="724.8" cy="88.2" r="1.1" fill="#8e2a62"/><circle cx="728.9" cy="91.4" r="0.6" fill="#c878a8"/><circle cx="791.2" cy="90.8" r="1" fill="#b04a80"/><circle cx="762.5" cy="90.6" r="0.9" fill="#8e2a62"/><circle cx="665.4" cy="90.5" r="1.1" fill="#c878a8"/><circle cx="722" cy="88.6" r="0.8" fill="#a83a78"/><circle cx="751.7" cy="90.8" r="0.9" fill="#b04a80"/><circle cx="735.3" cy="90.2" r="1.1" fill="#7a2050"/><circle cx="779.7" cy="93.5" r="1" fill="#9a3070"/><circle cx="724.3" cy="94.5" r="0.9" fill="#c878a8"/><circle cx="708.6" cy="92.5" r="0.9" fill="#b04a80"/><circle cx="817.2" cy="90.4" r="0.7" fill="#c878a8"/><circle cx="693.2" cy="90.3" r="0.7" fill="#9a3070"/><circle cx="812.9" cy="88.7" r="0.7" fill="#7a2050"/><circle cx="706.3" cy="90.1" r="0.8" fill="#c878a8"/><circle cx="813.5" cy="91.4" r="0.7" fill="#9a3070"/><circle cx="817.2" cy="88.4" r="1" fill="#a83a78"/><circle cx="727.1" cy="94.2" r="0.9" fill="#8e2a62"/><circle cx="771.4" cy="88.8" r="1" fill="#a83a78"/><circle cx="716.7" cy="92.4" r="0.6" fill="#7a2050"/><circle cx="801.1" cy="88.1" r="0.8" fill="#b04a80"/><circle cx="662" cy="92.5" r="0.8" fill="#7a2050"/><circle cx="770.3" cy="94.1" r="0.5" fill="#8e2a62"/><circle cx="722.1" cy="91.6" r="0.7" fill="#8e2a62"/><circle cx="715.8" cy="90.4" r="0.6" fill="#7a2050"/><circle cx="773.3" cy="88.9" r="0.8" fill="#b04a80"/><circle cx="716.9" cy="89.1" r="0.6" fill="#c878a8"/><circle cx="700.2" cy="88.7" r="0.8" fill="#8e2a62"/><circle cx="736.1" cy="90.7" r="0.6" fill="#c878a8"/><circle cx="729.2" cy="90" r="0.5" fill="#7a2050"/><circle cx="675.7" cy="91.1" r="1.1" fill="#8e2a62"/><circle cx="673" cy="90" r="0.8" fill="#7a2050"/><circle cx="746.7" cy="89.5" r="1" fill="#a83a78"/><circle cx="717.8" cy="89.1" r="0.9" fill="#c878a8"/><circle cx="767.4" cy="97.2" r="0.8" fill="#c878a8"/><circle cx="776.7" cy="90.5" r="0.6" fill="#b04a80"/><circle cx="814.4" cy="90.6" r="0.5" fill="#a83a78"/><circle cx="746.3" cy="92.3" r="0.8" fill="#c878a8"/><circle cx="737.1" cy="88.6" r="0.6" fill="#a83a78"/><circle cx="737.1" cy="88.8" r="0.9" fill="#8e2a62"/><circle cx="719" cy="95.2" r="0.6" fill="#7a2050"/><circle cx="696.5" cy="89.9" r="0.7" fill="#b04a80"/><circle cx="712.4" cy="93" r="0.8" fill="#c878a8"/><circle cx="709.9" cy="88.9" r="0.5" fill="#a83a78"/><circle cx="699.2" cy="88.6" r="1.1" fill="#8e2a62"/><circle cx="727.8" cy="90.6" r="0.9" fill="#7a2050"/><circle cx="695.6" cy="89.7" r="0.8" fill="#9a3070"/><circle cx="708.3" cy="88.7" r="0.6" fill="#b04a80"/><circle cx="738.6" cy="95.6" r="0.8" fill="#9a3070"/><circle cx="814.6" cy="90.3" r="0.6" fill="#8e2a62"/><circle cx="666.2" cy="88.2" r="0.5" fill="#b04a80"/><circle cx="816.8" cy="90.9" r="0.8" fill="#b04a80"/><circle cx="727.8" cy="88.3" r="1" fill="#a83a78"/><circle cx="673.8" cy="90.4" r="0.6" fill="#b04a80"/><circle cx="734.2" cy="89.4" r="1" fill="#8e2a62"/><circle cx="783.8" cy="97.2" r="1" fill="#8e2a62"/><circle cx="817.9" cy="90" r="0.7" fill="#a83a78"/><circle cx="700.5" cy="89.9" r="0.6" fill="#b04a80"/><circle cx="777.5" cy="91" r="0.6" fill="#8e2a62"/><circle cx="749.7" cy="94.1" r="1" fill="#9a3070"/><circle cx="775.2" cy="92.3" r="0.9" fill="#c878a8"/><circle cx="663" cy="88.7" r="0.7" fill="#7a2050"/><circle cx="679.4" cy="90.3" r="1.1" fill="#8e2a62"/><circle cx="795.6" cy="90.8" r="0.9" fill="#9a3070"/><circle cx="747.7" cy="89.5" r="0.9" fill="#8e2a62"/><circle cx="679.1" cy="88.2" r="0.9" fill="#9a3070"/><circle cx="708.8" cy="90.2" r="0.6" fill="#b04a80"/><circle cx="760.7" cy="88.5" r="0.6" fill="#7a2050"/><circle cx="791.8" cy="96.4" r="0.9" fill="#a83a78"/><circle cx="779.1" cy="89.1" r="0.7" fill="#c878a8"/><circle cx="723.6" cy="95" r="0.5" fill="#9a3070"/><circle cx="664.1" cy="89.3" r="0.6" fill="#a83a78"/><circle cx="683.3" cy="92.7" r="1" fill="#b04a80"/><circle cx="757.7" cy="93.4" r="1.1" fill="#9a3070"/><circle cx="815.9" cy="88.1" r="0.8" fill="#9a3070"/><circle cx="806.2" cy="88.8" r="0.7" fill="#b04a80"/><circle cx="722.8" cy="88.4" r="0.6" fill="#a83a78"/><circle cx="696.3" cy="94.8" r="0.7" fill="#7a2050"/><circle cx="725.1" cy="92.9" r="0.7" fill="#c878a8"/><circle cx="803.7" cy="92.1" r="0.6" fill="#8e2a62"/><circle cx="745.3" cy="90.1" r="1" fill="#b04a80"/><circle cx="793.3" cy="94.3" r="0.6" fill="#7a2050"/><circle cx="710.3" cy="92.3" r="1.1" fill="#b04a80"/><circle cx="728.8" cy="90.7" r="0.5" fill="#c878a8"/><circle cx="766.1" cy="90.6" r="0.7" fill="#9a3070"/><circle cx="812.3" cy="88.3" r="0.8" fill="#8e2a62"/><circle cx="772" cy="88.6" r="0.7" fill="#7a2050"/><circle cx="812.3" cy="88.7" r="0.9" fill="#7a2050"/><circle cx="795.8" cy="88.8" r="0.6" fill="#c878a8"/><circle cx="801" cy="88.8" r="0.5" fill="#7a2050"/><circle cx="663.6" cy="90.9" r="1.1" fill="#7a2050"/><circle cx="719.7" cy="88.1" r="1.1" fill="#a83a78"/><circle cx="778.5" cy="89.9" r="0.6" fill="#a83a78"/><circle cx="799.8" cy="90.8" r="0.7" fill="#c878a8"/><circle cx="816.7" cy="88.9" r="0.8" fill="#c878a8"/><circle cx="724.1" cy="91" r="0.5" fill="#c878a8"/><circle cx="771.4" cy="92.5" r="0.8" fill="#7a2050"/><circle cx="689.4" cy="91.5" r="1.1" fill="#8e2a62"/><circle cx="786.1" cy="93" r="0.7" fill="#b04a80"/><circle cx="714.4" cy="89.1" r="0.6" fill="#9a3070"/><circle cx="786.2" cy="93.6" r="0.7" fill="#a83a78"/><circle cx="805.6" cy="90.2" r="0.8" fill="#7a2050"/><circle cx="688.9" cy="88.9" r="1" fill="#a83a78"/><circle cx="674.2" cy="88.5" r="0.9" fill="#7a2050"/><circle cx="680.3" cy="93.1" r="1" fill="#9a3070"/><circle cx="755.5" cy="89.5" r="1.1" fill="#8e2a62"/><circle cx="766.3" cy="89.9" r="0.8" fill="#c878a8"/><circle cx="715.5" cy="90.1" r="0.5" fill="#8e2a62"/><circle cx="811.9" cy="89.3" r="0.9" fill="#c878a8"/><circle cx="738.7" cy="97.8" r="0.8" fill="#8e2a62"/><circle cx="751.8" cy="89.7" r="0.6" fill="#b04a80"/><circle cx="660.7" cy="90.4" r="0.6" fill="#8e2a62"/><circle cx="718.2" cy="91.4" r="1.1" fill="#c878a8"/><circle cx="721.1" cy="94.2" r="0.6" fill="#8e2a62"/><circle cx="737.1" cy="88.4" r="0.9" fill="#b04a80"/><circle cx="699.5" cy="91.7" r="0.9" fill="#c878a8"/><circle cx="781.1" cy="89.4" r="1" fill="#7a2050"/><circle cx="817.7" cy="91.2" r="0.7" fill="#8e2a62"/><circle cx="662.3" cy="90.8" r="0.8" fill="#8e2a62"/><circle cx="747.7" cy="89" r="0.7" fill="#7a2050"/><circle cx="742.1" cy="101.2" r="0.7" fill="#a83a78"/><circle cx="808.3" cy="88" r="0.6" fill="#9a3070"/><circle cx="749.5" cy="90.6" r="0.8" fill="#9a3070"/><circle cx="751.6" cy="96.8" r="0.6" fill="#b04a80"/><circle cx="804.3" cy="89.1" r="0.7" fill="#7a2050"/><circle cx="664" cy="92" r="0.6" fill="#a83a78"/><circle cx="751.6" cy="96.7" r="0.6" fill="#c878a8"/><circle cx="663.7" cy="88.9" r="0.6" fill="#b04a80"/><circle cx="670.1" cy="90.2" r="0.7" fill="#c878a8"/><circle cx="667.2" cy="91.3" r="0.5" fill="#a83a78"/><circle cx="802.5" cy="91.2" r="0.5" fill="#7a2050"/><circle cx="684.7" cy="89.4" r="0.9" fill="#c878a8"/><circle cx="806.6" cy="89.3" r="0.6" fill="#c878a8"/><circle cx="738.7" cy="92.4" r="0.9" fill="#9a3070"/><circle cx="769.8" cy="90.7" r="1" fill="#7a2050"/><circle cx="742.8" cy="93.2" r="0.8" fill="#7a2050"/><circle cx="686.7" cy="92.2" r="0.8" fill="#b04a80"/><circle cx="747.1" cy="92" r="0.7" fill="#a83a78"/><circle cx="730.8" cy="92.6" r="0.9" fill="#a83a78"/><circle cx="744.6" cy="91.9" r="0.9" fill="#c878a8"/><circle cx="764.8" cy="90.9" r="0.8" fill="#b04a80"/><circle cx="696.1" cy="90.2" r="0.8" fill="#b04a80"/><circle cx="809.6" cy="88.9" r="0.9" fill="#8e2a62"/><circle cx="786.2" cy="89.1" r="0.9" fill="#7a2050"/><circle cx="750.9" cy="92.4" r="0.8" fill="#8e2a62"/><circle cx="736.8" cy="95.1" r="0.6" fill="#b04a80"/><circle cx="696" cy="88.7" r="1" fill="#7a2050"/><circle cx="722" cy="90.2" r="0.9" fill="#9a3070"/><circle cx="732.7" cy="91.7" r="0.8" fill="#7a2050"/><circle cx="658.9" cy="90" r="0.8" fill="#c878a8"/><circle cx="736.4" cy="88.5" r="0.8" fill="#b04a80"/><circle cx="785.1" cy="91.3" r="0.9" fill="#8e2a62"/><circle cx="667.1" cy="88.1" r="1" fill="#7a2050"/><circle cx="790.5" cy="90.9" r="0.8" fill="#8e2a62"/><circle cx="805.9" cy="91.7" r="0.6" fill="#b04a80"/><circle cx="733.1" cy="93" r="0.8" fill="#9a3070"/><circle cx="769" cy="90.7" r="1.1" fill="#c878a8"/><circle cx="715.5" cy="89.9" r="1" fill="#7a2050"/><circle cx="814.1" cy="89.9" r="0.6" fill="#b04a80"/><circle cx="813.8" cy="88.2" r="0.9" fill="#7a2050"/><circle cx="669.8" cy="88.4" r="1" fill="#8e2a62"/><circle cx="800" cy="89.1" r="0.8" fill="#a83a78"/><circle cx="740.8" cy="91.6" r="0.6" fill="#c878a8"/><circle cx="711.6" cy="90.6" r="0.8" fill="#9a3070"/><circle cx="822" cy="89" r="1.1" fill="#c878a8"/><circle cx="769.9" cy="93.7" r="0.8" fill="#b04a80"/><circle cx="731.8" cy="88.3" r="0.7" fill="#b04a80"/><circle cx="804.6" cy="90" r="0.7" fill="#b04a80"/><circle cx="694.8" cy="94.6" r="0.6" fill="#9a3070"/><circle cx="760.9" cy="91.1" r="1.1" fill="#7a2050"/><circle cx="695" cy="90.8" r="0.7" fill="#c878a8"/><circle cx="682.8" cy="89.1" r="0.7" fill="#a83a78"/><circle cx="712.9" cy="91.1" r="0.9" fill="#c878a8"/><circle cx="707.5" cy="90.4" r="0.8" fill="#9a3070"/><circle cx="777.4" cy="89.6" r="0.5" fill="#9a3070"/><circle cx="802.8" cy="90.2" r="0.7" fill="#7a2050"/><circle cx="714" cy="93.6" r="0.6" fill="#a83a78"/><circle cx="662.5" cy="88" r="0.7" fill="#9a3070"/><circle cx="763.6" cy="90.1" r="1.1" fill="#9a3070"/><circle cx="773" cy="90.8" r="0.6" fill="#8e2a62"/><circle cx="699.8" cy="88.3" r="0.9" fill="#c878a8"/><circle cx="808.4" cy="88.3" r="0.7" fill="#b04a80"/><circle cx="764.9" cy="90.9" r="0.6" fill="#c878a8"/><circle cx="734.5" cy="93.5" r="1" fill="#8e2a62"/><circle cx="706.8" cy="89.9" r="1.1" fill="#8e2a62"/><circle cx="700.9" cy="90" r="1.1" fill="#7a2050"/><circle cx="765.9" cy="92.1" r="1" fill="#7a2050"/><circle cx="665.1" cy="93.5" r="1.1" fill="#a83a78"/><circle cx="758.2" cy="88.6" r="0.9" fill="#8e2a62"/><circle cx="734.9" cy="95.6" r="1" fill="#7a2050"/><circle cx="744.1" cy="89.5" r="1" fill="#9a3070"/><circle cx="811.3" cy="89.4" r="0.7" fill="#b04a80"/><circle cx="817.7" cy="88.2" r="0.8" fill="#a83a78"/><circle cx="773.1" cy="88.9" r="0.8" fill="#8e2a62"/><circle cx="713.7" cy="89.8" r="0.7" fill="#8e2a62"/><circle cx="804" cy="90.2" r="0.9" fill="#8e2a62"/><circle cx="814" cy="90" r="0.9" fill="#9a3070"/><circle cx="735" cy="91.4" r="0.7" fill="#8e2a62"/><circle cx="794.9" cy="89.1" r="0.9" fill="#c878a8"/><circle cx="762.5" cy="96" r="0.5" fill="#8e2a62"/><circle cx="783.3" cy="93.6" r="0.8" fill="#c878a8"/><circle cx="697" cy="88.1" r="0.7" fill="#b04a80"/><circle cx="713" cy="97.5" r="0.8" fill="#7a2050"/><circle cx="724.2" cy="94.6" r="0.5" fill="#b04a80"/><circle cx="733.2" cy="91.4" r="0.5" fill="#a83a78"/><circle cx="690.7" cy="88.6" r="1.1" fill="#b04a80"/><circle cx="765.5" cy="94.2" r="0.7" fill="#c878a8"/><circle cx="806" cy="88.4" r="0.6" fill="#7a2050"/><circle cx="760.7" cy="92.7" r="0.7" fill="#9a3070"/><circle cx="731.6" cy="91.2" r="0.9" fill="#7a2050"/><circle cx="753.8" cy="90.9" r="0.5" fill="#a83a78"/><circle cx="750.1" cy="92" r="0.5" fill="#c878a8"/><circle cx="677.9" cy="91.6" r="0.7" fill="#b04a80"/><circle cx="796.6" cy="88.6" r="0.5" fill="#a83a78"/><circle cx="748.7" cy="90.7" r="0.6" fill="#c878a8"/><circle cx="717.2" cy="99.5" r="0.7" fill="#9a3070"/><circle cx="724.3" cy="90" r="0.6" fill="#c878a8"/><circle cx="809.1" cy="88.8" r="0.9" fill="#b04a80"/><circle cx="802.4" cy="90.1" r="1.1" fill="#c878a8"/><circle cx="749.2" cy="95.9" r="1" fill="#a83a78"/><circle cx="750.1" cy="89.1" r="1" fill="#c878a8"/><circle cx="702.3" cy="93" r="0.7" fill="#7a2050"/><circle cx="816" cy="90.4" r="1" fill="#9a3070"/><circle cx="811.1" cy="90.5" r="0.9" fill="#c878a8"/><circle cx="733.5" cy="91.5" r="1" fill="#8e2a62"/><circle cx="743.6" cy="89.6" r="0.9" fill="#a83a78"/><circle cx="821.5" cy="89.6" r="1" fill="#a83a78"/><circle cx="794.2" cy="88.2" r="0.7" fill="#a83a78"/><circle cx="788.8" cy="88.7" r="0.8" fill="#8e2a62"/><circle cx="683.6" cy="88.2" r="1" fill="#7a2050"/><circle cx="686.2" cy="89.8" r="0.9" fill="#9a3070"/><circle cx="695.1" cy="88.3" r="0.6" fill="#7a2050"/><circle cx="768.5" cy="91" r="0.7" fill="#c878a8"/><circle cx="714.1" cy="89.8" r="0.8" fill="#b04a80"/><circle cx="704.1" cy="91.5" r="0.9" fill="#9a3070"/><circle cx="768.8" cy="90.8" r="0.8" fill="#b04a80"/><circle cx="709.2" cy="89.8" r="1.1" fill="#a83a78"/><circle cx="736.3" cy="90.4" r="0.6" fill="#7a2050"/><circle cx="703.9" cy="88.2" r="1" fill="#8e2a62"/><circle cx="738.5" cy="91.7" r="0.7" fill="#a83a78"/><circle cx="690.2" cy="90.8" r="1.1" fill="#7a2050"/><circle cx="697.6" cy="89.2" r="0.6" fill="#7a2050"/><circle cx="769.3" cy="89.5" r="1" fill="#8e2a62"/><circle cx="743.4" cy="92.5" r="1" fill="#7a2050"/><circle cx="783.4" cy="90.8" r="0.8" fill="#a83a78"/><circle cx="791.5" cy="89" r="1.1" fill="#7a2050"/><circle cx="818.4" cy="89" r="0.9" fill="#b04a80"/><circle cx="765.5" cy="88.3" r="0.8" fill="#8e2a62"/><circle cx="710.5" cy="89.8" r="0.9" fill="#8e2a62"/><circle cx="822" cy="88.5" r="0.7" fill="#9a3070"/><circle cx="790.7" cy="92.8" r="0.9" fill="#8e2a62"/><circle cx="665.5" cy="89.8" r="0.7" fill="#7a2050"/><circle cx="666.6" cy="89.1" r="1" fill="#9a3070"/><circle cx="773.5" cy="88.3" r="0.6" fill="#b04a80"/><circle cx="707.9" cy="90.8" r="0.6" fill="#c878a8"/><circle cx="724.4" cy="92.3" r="0.5" fill="#8e2a62"/><circle cx="794.6" cy="92.8" r="0.6" fill="#9a3070"/><circle cx="663.5" cy="90.5" r="1.1" fill="#b04a80"/><circle cx="755.5" cy="94.3" r="0.5" fill="#8e2a62"/><circle cx="821.6" cy="88.9" r="1" fill="#9a3070"/><circle cx="771.2" cy="93.5" r="0.5" fill="#8e2a62"/><circle cx="779" cy="94.9" r="0.6" fill="#9a3070"/><circle cx="734.2" cy="89.4" r="0.7" fill="#b04a80"/><circle cx="798.5" cy="96.9" r="0.9" fill="#9a3070"/><circle cx="771.6" cy="88.8" r="0.7" fill="#b04a80"/><circle cx="683" cy="88.3" r="0.9" fill="#b04a80"/><circle cx="706.9" cy="97.3" r="0.7" fill="#a83a78"/><circle cx="722" cy="90.7" r="0.6" fill="#b04a80"/><circle cx="793.2" cy="90.6" r="0.5" fill="#8e2a62"/><circle cx="768.5" cy="88" r="0.5" fill="#8e2a62"/><circle cx="748.7" cy="88.9" r="0.8" fill="#c878a8"/><circle cx="739.3" cy="94.2" r="0.6" fill="#8e2a62"/><circle cx="743" cy="88.8" r="0.9" fill="#7a2050"/><circle cx="810.7" cy="88" r="1.1" fill="#c878a8"/><circle cx="705.5" cy="89.2" r="0.8" fill="#8e2a62"/><circle cx="761.6" cy="88.6" r="0.6" fill="#7a2050"/><circle cx="754" cy="89.1" r="0.8" fill="#9a3070"/><circle cx="703" cy="91.5" r="1.1" fill="#c878a8"/><circle cx="820.5" cy="91.1" r="1.1" fill="#b04a80"/><circle cx="822.8" cy="89.6" r="0.9" fill="#c878a8"/><circle cx="803.9" cy="90.1" r="1.1" fill="#b04a80"/><circle cx="716.1" cy="92.4" r="0.9" fill="#c878a8"/><circle cx="689.1" cy="88.8" r="0.8" fill="#9a3070"/><circle cx="766.2" cy="98.1" r="0.8" fill="#b04a80"/><circle cx="812.9" cy="89.5" r="0.6" fill="#b04a80"/><circle cx="754.7" cy="92.2" r="0.9" fill="#c878a8"/><circle cx="805.8" cy="88.4" r="1.1" fill="#b04a80"/><circle cx="736.1" cy="94.3" r="0.7" fill="#8e2a62"/><circle cx="770.3" cy="91.1" r="0.9" fill="#c878a8"/><circle cx="790.9" cy="93" r="0.5" fill="#a83a78"/><circle cx="762.8" cy="91" r="1" fill="#7a2050"/><circle cx="748" cy="89.3" r="0.7" fill="#a83a78"/><circle cx="666.6" cy="88.1" r="0.9" fill="#9a3070"/><circle cx="820.7" cy="91" r="0.8" fill="#7a2050"/><circle cx="753.6" cy="91" r="0.8" fill="#9a3070"/><circle cx="663.5" cy="89" r="0.5" fill="#7a2050"/><circle cx="787.4" cy="97.7" r="0.8" fill="#b04a80"/><circle cx="811.4" cy="89" r="0.8" fill="#9a3070"/><circle cx="665.9" cy="91.5" r="0.7" fill="#a83a78"/><circle cx="766.5" cy="91.4" r="0.6" fill="#b04a80"/><circle cx="697.9" cy="88.9" r="0.7" fill="#c878a8"/><circle cx="674.7" cy="89.9" r="0.5" fill="#a83a78"/><circle cx="774" cy="94.6" r="1.1" fill="#b04a80"/><circle cx="692.5" cy="94.6" r="0.8" fill="#7a2050"/><circle cx="758.9" cy="90.6" r="0.9" fill="#9a3070"/><circle cx="731.9" cy="91.7" r="0.8" fill="#9a3070"/><circle cx="783.9" cy="92.8" r="1" fill="#8e2a62"/><circle cx="717" cy="90.8" r="1.1" fill="#c878a8"/><circle cx="777.8" cy="90.4" r="0.6" fill="#9a3070"/><circle cx="797.5" cy="90.9" r="0.5" fill="#8e2a62"/><circle cx="754.1" cy="92.8" r="0.7" fill="#c878a8"/><circle cx="738.2" cy="91.7" r="1.1" fill="#c878a8"/><circle cx="780.9" cy="93.3" r="1.1" fill="#b04a80"/><circle cx="740.6" cy="94.9" r="0.6" fill="#8e2a62"/><circle cx="689.8" cy="88.4" r="0.7" fill="#7a2050"/><circle cx="800.7" cy="90.6" r="0.8" fill="#b04a80"/><circle cx="709.3" cy="90.2" r="0.9" fill="#b04a80"/><circle cx="747.4" cy="95.4" r="0.6" fill="#9a3070"/><circle cx="661.8" cy="88.9" r="0.9" fill="#7a2050"/><circle cx="753.3" cy="90.2" r="0.7" fill="#a83a78"/><circle cx="812.6" cy="89.4" r="1" fill="#7a2050"/><circle cx="814" cy="88.7" r="0.8" fill="#7a2050"/><circle cx="681.2" cy="90.4" r="0.8" fill="#9a3070"/><circle cx="791.1" cy="98.4" r="0.6" fill="#9a3070"/><circle cx="813.6" cy="89" r="1" fill="#b04a80"/><circle cx="765.4" cy="88.7" r="0.5" fill="#b04a80"/><circle cx="772.9" cy="93.5" r="0.9" fill="#7a2050"/><circle cx="664.2" cy="88.8" r="0.7" fill="#8e2a62"/><circle cx="733.6" cy="95.1" r="0.5" fill="#7a2050"/><circle cx="753.6" cy="88.3" r="0.8" fill="#9a3070"/><circle cx="719.2" cy="90" r="1.1" fill="#a83a78"/><circle cx="796.5" cy="88.9" r="0.9" fill="#7a2050"/><circle cx="762.3" cy="88.3" r="1" fill="#b04a80"/><circle cx="731.5" cy="88.1" r="0.7" fill="#7a2050"/><circle cx="698.5" cy="88.4" r="0.8" fill="#c878a8"/><circle cx="774.3" cy="91.5" r="0.7" fill="#7a2050"/><circle cx="760.3" cy="99.6" r="0.7" fill="#b04a80"/><circle cx="786.3" cy="88.5" r="0.5" fill="#8e2a62"/><circle cx="794.1" cy="90.2" r="0.7" fill="#c878a8"/><circle cx="699.9" cy="93.4" r="0.8" fill="#9a3070"/><circle cx="784.5" cy="89.4" r="1.1" fill="#9a3070"/><circle cx="817" cy="89.5" r="0.8" fill="#c878a8"/><circle cx="783" cy="91.8" r="1" fill="#9a3070"/><circle cx="774.2" cy="97.1" r="0.8" fill="#a83a78"/><circle cx="769.9" cy="89.3" r="0.9" fill="#7a2050"/><circle cx="721.4" cy="88.2" r="0.7" fill="#8e2a62"/><circle cx="732.6" cy="88.3" r="0.6" fill="#9a3070"/><circle cx="795.1" cy="92.4" r="0.9" fill="#8e2a62"/><circle cx="658.3" cy="89" r="0.7" fill="#b04a80"/><circle cx="752" cy="97.2" r="0.9" fill="#7a2050"/><circle cx="708.8" cy="92.6" r="0.7" fill="#7a2050"/><circle cx="764.1" cy="93.7" r="0.5" fill="#7a2050"/><circle cx="816.3" cy="92.1" r="0.9" fill="#a83a78"/><circle cx="706.9" cy="88.8" r="0.9" fill="#a83a78"/><circle cx="690.7" cy="90.2" r="0.7" fill="#7a2050"/><circle cx="756.2" cy="91.6" r="1" fill="#8e2a62"/><circle cx="797.8" cy="95.9" r="0.7" fill="#9a3070"/><circle cx="711.6" cy="93.2" r="0.6" fill="#a83a78"/><circle cx="677" cy="88.6" r="0.9" fill="#7a2050"/><circle cx="737.9" cy="90" r="0.7" fill="#a83a78"/><circle cx="698.1" cy="93.6" r="1.1" fill="#b04a80"/><circle cx="721.4" cy="88.7" r="0.7" fill="#7a2050"/><circle cx="785.2" cy="91" r="1.1" fill="#a83a78"/><circle cx="733.9" cy="94.3" r="1.1" fill="#9a3070"/><circle cx="681.1" cy="91.4" r="0.7" fill="#9a3070"/><circle cx="750.4" cy="90.6" r="0.5" fill="#8e2a62"/><circle cx="730.6" cy="92" r="0.6" fill="#9a3070"/><circle cx="808.4" cy="88.9" r="0.5" fill="#c878a8"/><circle cx="817.5" cy="88.6" r="0.9" fill="#c878a8"/><circle cx="702.3" cy="92.2" r="1" fill="#b04a80"/><circle cx="748.1" cy="93.6" r="0.6" fill="#c878a8"/><circle cx="667.8" cy="89.8" r="1.1" fill="#a83a78"/><circle cx="785.9" cy="98.4" r="1" fill="#8e2a62"/><circle cx="812.9" cy="88.7" r="0.9" fill="#7a2050"/><circle cx="698" cy="90.3" r="0.5" fill="#b04a80"/><circle cx="709.7" cy="94.6" r="1" fill="#9a3070"/><circle cx="736" cy="95.2" r="0.8" fill="#c878a8"/><circle cx="732.7" cy="95.2" r="0.6" fill="#b04a80"/><circle cx="759.3" cy="88.3" r="0.7" fill="#7a2050"/><circle cx="705.7" cy="89.6" r="0.7" fill="#c878a8"/><circle cx="792.5" cy="92.1" r="0.9" fill="#7a2050"/><circle cx="683.3" cy="88" r="0.5" fill="#9a3070"/><circle cx="681.6" cy="90.1" r="0.8" fill="#c878a8"/><circle cx="805.4" cy="88.3" r="0.9" fill="#9a3070"/><circle cx="782.8" cy="96.8" r="0.9" fill="#8e2a62"/><circle cx="685.6" cy="89.7" r="0.9" fill="#7a2050"/><circle cx="705.4" cy="91" r="0.9" fill="#a83a78"/><circle cx="751.3" cy="88.6" r="0.9" fill="#8e2a62"/><circle cx="742" cy="88.9" r="0.6" fill="#9a3070"/><circle cx="741.8" cy="91.1" r="0.6" fill="#8e2a62"/><circle cx="717.7" cy="91.7" r="0.7" fill="#8e2a62"/><circle cx="742.8" cy="90.2" r="0.5" fill="#7a2050"/><circle cx="743.1" cy="94.2" r="1" fill="#c878a8"/><circle cx="816.6" cy="90.4" r="0.5" fill="#a83a78"/><circle cx="719.7" cy="91.8" r="0.6" fill="#c878a8"/><circle cx="717.9" cy="88.5" r="1" fill="#7a2050"/><circle cx="749" cy="95.7" r="0.8" fill="#c878a8"/><circle cx="718.4" cy="92.3" r="0.7" fill="#8e2a62"/><circle cx="796.4" cy="91" r="0.9" fill="#c878a8"/><circle cx="672.5" cy="88.2" r="0.6" fill="#9a3070"/><circle cx="687.1" cy="93.6" r="0.6" fill="#b04a80"/><circle cx="676.1" cy="88.2" r="0.9" fill="#b04a80"/><circle cx="696.3" cy="89" r="0.5" fill="#9a3070"/><circle cx="662.6" cy="91.3" r="1" fill="#b04a80"/><circle cx="790.9" cy="89.6" r="0.8" fill="#c878a8"/><circle cx="730.8" cy="93.4" r="0.9" fill="#c878a8"/><circle cx="721" cy="89.4" r="0.6" fill="#a83a78"/><circle cx="688.6" cy="88.7" r="1" fill="#a83a78"/><circle cx="779" cy="92.9" r="0.7" fill="#7a2050"/><circle cx="755.2" cy="90.8" r="0.7" fill="#8e2a62"/><circle cx="797.2" cy="90.6" r="0.9" fill="#8e2a62"/><circle cx="706.2" cy="92.2" r="0.6" fill="#b04a80"/><circle cx="766.3" cy="90.1" r="0.8" fill="#9a3070"/><circle cx="712.6" cy="92" r="0.9" fill="#8e2a62"/><circle cx="660.5" cy="89.9" r="1" fill="#a83a78"/><circle cx="700.8" cy="92.9" r="0.5" fill="#7a2050"/><circle cx="761.8" cy="93.4" r="0.6" fill="#a83a78"/><circle cx="742.3" cy="88.3" r="1" fill="#7a2050"/><circle cx="757.1" cy="90.9" r="0.9" fill="#c878a8"/><circle cx="702.3" cy="90.1" r="1" fill="#a83a78"/><circle cx="793.9" cy="88.7" r="0.6" fill="#c878a8"/><circle cx="757.7" cy="96" r="0.5" fill="#8e2a62"/><circle cx="660" cy="89.8" r="0.5" fill="#b04a80"/><circle cx="662" cy="90" r="0.9" fill="#c878a8"/><circle cx="818.4" cy="90.2" r="0.8" fill="#8e2a62"/><circle cx="703.9" cy="92.8" r="0.8" fill="#b04a80"/><circle cx="774" cy="93.5" r="1" fill="#8e2a62"/><circle cx="763.2" cy="89.9" r="0.8" fill="#a83a78"/><circle cx="669.7" cy="90.3" r="1" fill="#9a3070"/><circle cx="810.7" cy="88.8" r="0.8" fill="#9a3070"/><circle cx="762.4" cy="89.2" r="0.9" fill="#9a3070"/><circle cx="711.9" cy="92.3" r="0.8" fill="#8e2a62"/><circle cx="704.2" cy="88.3" r="0.6" fill="#b04a80"/><circle cx="771" cy="89.6" r="1.1" fill="#a83a78"/><circle cx="784.3" cy="90.5" r="0.5" fill="#c878a8"/><circle cx="787" cy="92.7" r="1" fill="#7a2050"/><circle cx="819.9" cy="89.2" r="0.5" fill="#9a3070"/><circle cx="762.5" cy="93.3" r="0.8" fill="#9a3070"/><circle cx="763.9" cy="92.2" r="0.7" fill="#c878a8"/><circle cx="659.3" cy="89.1" r="1" fill="#a83a78"/><circle cx="788.5" cy="88.8" r="0.5" fill="#8e2a62"/><circle cx="764" cy="99.3" r="1" fill="#a83a78"/><circle cx="757.1" cy="88.6" r="0.6" fill="#7a2050"/><circle cx="821.5" cy="90.5" r="1" fill="#c878a8"/><circle cx="772.4" cy="93" r="0.5" fill="#7a2050"/><circle cx="752.5" cy="93.3" r="1.1" fill="#7a2050"/><circle cx="801.3" cy="90.4" r="0.6" fill="#8e2a62"/><circle cx="737.6" cy="94.7" r="0.7" fill="#c878a8"/><circle cx="802.3" cy="92.2" r="0.7" fill="#8e2a62"/><circle cx="734.7" cy="88.8" r="0.9" fill="#b04a80"/><circle cx="800.1" cy="90" r="1" fill="#a83a78"/><circle cx="700.3" cy="94.7" r="1.1" fill="#9a3070"/><circle cx="727.3" cy="94.7" r="0.5" fill="#7a2050"/><circle cx="795.1" cy="89.9" r="0.7" fill="#8e2a62"/><circle cx="815.5" cy="88.2" r="0.6" fill="#a83a78"/><circle cx="817" cy="89.2" r="0.9" fill="#a83a78"/><circle cx="803" cy="89.6" r="0.7" fill="#c878a8"/><circle cx="786.2" cy="94" r="0.9" fill="#9a3070"/><circle cx="689.8" cy="89.9" r="0.6" fill="#9a3070"/><circle cx="698.2" cy="91.2" r="1" fill="#9a3070"/><circle cx="801.2" cy="89.1" r="1" fill="#c878a8"/><circle cx="754.3" cy="89.5" r="0.6" fill="#9a3070"/><circle cx="690.8" cy="91.7" r="0.6" fill="#9a3070"/><circle cx="753.6" cy="95.1" r="0.8" fill="#b04a80"/><circle cx="782" cy="89" r="0.9" fill="#7a2050"/><circle cx="709.2" cy="88.7" r="0.9" fill="#7a2050"/><circle cx="789.3" cy="90.3" r="0.9" fill="#7a2050"/><circle cx="759.2" cy="88.1" r="0.6" fill="#9a3070"/><circle cx="701.2" cy="93.1" r="0.9" fill="#c878a8"/><circle cx="717.2" cy="94.1" r="0.8" fill="#c878a8"/><circle cx="809.8" cy="91.7" r="1" fill="#8e2a62"/><circle cx="734.7" cy="90.4" r="0.7" fill="#7a2050"/><circle cx="676.4" cy="89.1" r="0.6" fill="#a83a78"/><circle cx="747.2" cy="98.3" r="1.1" fill="#b04a80"/><circle cx="733.9" cy="93.4" r="0.8" fill="#b04a80"/><circle cx="762.3" cy="90.2" r="0.8" fill="#9a3070"/><circle cx="800.9" cy="89.1" r="0.8" fill="#9a3070"/><circle cx="690.1" cy="92.9" r="0.9" fill="#9a3070"/><circle cx="805.7" cy="88.2" r="0.9" fill="#8e2a62"/><circle cx="662.6" cy="91.2" r="1" fill="#c878a8"/><circle cx="688.3" cy="89.1" r="0.9" fill="#b04a80"/><circle cx="791.3" cy="90.5" r="0.6" fill="#a83a78"/><circle cx="696.7" cy="95.5" r="0.6" fill="#7a2050"/><circle cx="779.1" cy="91.4" r="0.7" fill="#c878a8"/><circle cx="814.8" cy="90" r="0.8" fill="#8e2a62"/><circle cx="751.4" cy="88.1" r="0.8" fill="#7a2050"/><circle cx="735.3" cy="90" r="0.8" fill="#c878a8"/><circle cx="772.3" cy="98.6" r="0.6" fill="#7a2050"/><circle cx="692.8" cy="95.9" r="0.7" fill="#b04a80"/><circle cx="711.3" cy="92.6" r="0.7" fill="#b04a80"/><circle cx="700.9" cy="96.9" r="1" fill="#8e2a62"/><circle cx="718" cy="89.5" r="0.9" fill="#a83a78"/><circle cx="770.8" cy="90.1" r="0.8" fill="#b04a80"/><circle cx="809.7" cy="88.7" r="0.6" fill="#9a3070"/><circle cx="711.4" cy="89.9" r="0.7" fill="#b04a80"/><circle cx="729.6" cy="88.3" r="0.9" fill="#a83a78"/><circle cx="708.4" cy="89.4" r="0.9" fill="#8e2a62"/><circle cx="716.3" cy="92.8" r="0.6" fill="#7a2050"/><circle cx="660.7" cy="90.8" r="0.8" fill="#7a2050"/><circle cx="710.2" cy="91.4" r="1" fill="#c878a8"/><circle cx="723.2" cy="89.8" r="0.8" fill="#a83a78"/><circle cx="670.3" cy="89.9" r="0.7" fill="#c878a8"/><circle cx="686.7" cy="90.4" r="1.1" fill="#9a3070"/><circle cx="696.9" cy="93.6" r="0.9" fill="#7a2050"/><circle cx="721.4" cy="88.8" r="0.7" fill="#a83a78"/><circle cx="776.7" cy="88.4" r="0.7" fill="#7a2050"/><circle cx="666.4" cy="90.5" r="0.8" fill="#9a3070"/><circle cx="676.4" cy="90.4" r="0.8" fill="#7a2050"/><circle cx="786.1" cy="89.7" r="1.1" fill="#c878a8"/><circle cx="737.8" cy="89.4" r="0.7" fill="#7a2050"/><circle cx="737.4" cy="88.3" r="0.5" fill="#b04a80"/><circle cx="769.4" cy="88.2" r="0.7" fill="#9a3070"/><circle cx="781.5" cy="88.3" r="0.6" fill="#8e2a62"/><circle cx="821.8" cy="88.9" r="1" fill="#8e2a62"/><circle cx="787.5" cy="89.5" r="0.5" fill="#7a2050"/><circle cx="776.9" cy="91.8" r="0.7" fill="#8e2a62"/><circle cx="733.6" cy="89.5" r="1" fill="#8e2a62"/><circle cx="707.5" cy="91" r="0.5" fill="#9a3070"/><circle cx="691.5" cy="89.7" r="1.1" fill="#9a3070"/><circle cx="789.4" cy="89.5" r="0.9" fill="#a83a78"/><circle cx="733.8" cy="91" r="1" fill="#7a2050"/><circle cx="716.6" cy="89.1" r="1" fill="#c878a8"/><circle cx="745.6" cy="92.1" r="0.5" fill="#7a2050"/><circle cx="795.4" cy="90" r="0.7" fill="#9a3070"/><circle cx="664.6" cy="88.2" r="1" fill="#c878a8"/><circle cx="663.7" cy="88.3" r="1" fill="#8e2a62"/><circle cx="711.2" cy="89.9" r="0.9" fill="#a83a78"/><circle cx="714.2" cy="90.9" r="1" fill="#c878a8"/><circle cx="717.1" cy="90.9" r="0.7" fill="#9a3070"/><circle cx="781.7" cy="90.8" r="0.5" fill="#9a3070"/><circle cx="685.8" cy="91.6" r="0.5" fill="#a83a78"/><circle cx="732.9" cy="91.3" r="0.6" fill="#7a2050"/><circle cx="811.3" cy="88.6" r="0.8" fill="#b04a80"/><circle cx="817.7" cy="88.2" r="1" fill="#8e2a62"/><circle cx="776.1" cy="94.2" r="0.5" fill="#8e2a62"/><circle cx="708.3" cy="90.2" r="1" fill="#9a3070"/><circle cx="775.4" cy="89.4" r="0.7" fill="#b04a80"/><circle cx="807.8" cy="89.7" r="0.7" fill="#c878a8"/><circle cx="775.1" cy="93.2" r="0.6" fill="#8e2a62"/><circle cx="719.4" cy="89.9" r="1" fill="#8e2a62"/><circle cx="729" cy="92.4" r="0.6" fill="#8e2a62"/><circle cx="807.8" cy="88" r="0.7" fill="#c878a8"/><circle cx="708.2" cy="88.9" r="1.1" fill="#9a3070"/><circle cx="672.1" cy="90.6" r="0.7" fill="#7a2050"/><circle cx="796.9" cy="88.1" r="0.6" fill="#7a2050"/><circle cx="753.6" cy="92.8" r="0.7" fill="#7a2050"/><circle cx="708.7" cy="88.4" r="0.7" fill="#a83a78"/><circle cx="723.3" cy="90.1" r="0.9" fill="#c878a8"/><circle cx="686.4" cy="89" r="0.8" fill="#9a3070"/></g>
<path d="M772,138.8 L776.2,136.2" stroke="#8a7c58" stroke-width="0.8" fill="none" stroke-linecap="round"/><path d="M774.1,137.5 L776.2,136.2" stroke="#d4dc8a" stroke-width="0.8" fill="none" stroke-linecap="round" opacity="0.8"/><path d="M780.7,142.5 L780.7,148.6" stroke="#8a7c58" stroke-width="0.8" fill="none" stroke-linecap="round"/><path d="M780.7,145.6 L780.7,148.6" stroke="#d4dc8a" stroke-width="0.8" fill="none" stroke-linecap="round" opacity="0.8"/><path d="M788.7,148.9 L787.5,153.5" stroke="#8a7c58" stroke-width="0.8" fill="none" stroke-linecap="round"/><path d="M788.1,151.2 L787.5,153.5" stroke="#d4dc8a" stroke-width="0.8" fill="none" stroke-linecap="round" opacity="0.8"/><path d="M801.9,163.9 L800.9,171.1" stroke="#8a7c58" stroke-width="0.8" fill="none" stroke-linecap="round"/><path d="M801.4,167.5 L800.9,171.1" stroke="#d4dc8a" stroke-width="0.8" fill="none" stroke-linecap="round" opacity="0.8"/><path d="M823.1,182.2 L830.3,180.4" stroke="#8a7c58" stroke-width="0.8" fill="none" stroke-linecap="round"/><path d="M826.7,181.3 L830.3,180.4" stroke="#d4dc8a" stroke-width="0.8" fill="none" stroke-linecap="round" opacity="0.8"/><path d="M758,134 C760,134.7 766.3,136.7 770,138 C773.7,139.3 777,140.3 780,142 C783,143.7 785.3,145.3 788,148 C790.7,150.7 793,154.7 796,158 C799,161.3 802.3,164.7 806,168 C809.7,171.3 814.2,174.8 818,178 C821.8,181.2 827.2,185.5 829,187" stroke="#7a5848" stroke-width="3.0" fill="none" stroke-linecap="round" stroke-linejoin="round"/><path d="M758,134 C760,134.7 766.3,136.7 770,138 C773.7,139.3 777,140.3 780,142 C783,143.7 785.3,145.3 788,148 C790.7,150.7 793,154.7 796,158 C799,161.3 802.3,164.7 806,168 C809.7,171.3 814.2,174.8 818,178 C821.8,181.2 827.2,185.5 829,187" stroke="#dcd890" stroke-width="1" fill="none" stroke-linecap="round" stroke-linejoin="round" opacity="0.55"/><path d="M760,131 Q774,133 786,143 L789,150 Q774,142 760,141 Z" fill="#8a6454"/><path d="M799.9,189 L805,192" stroke="#8a7c58" stroke-width="0.8" fill="none" stroke-linecap="round"/><path d="M802.4,190.5 L805,192" stroke="#d4dc8a" stroke-width="0.8" fill="none" stroke-linecap="round" opacity="0.8"/><path d="M801.3,194 L806.8,195.8" stroke="#8a7c58" stroke-width="0.8" fill="none" stroke-linecap="round"/><path d="M804.1,194.9 L806.8,195.8" stroke="#d4dc8a" stroke-width="0.8" fill="none" stroke-linecap="round" opacity="0.8"/><path d="M810.6,217.1 L816.3,218.4" stroke="#8a7c58" stroke-width="0.8" fill="none" stroke-linecap="round"/><path d="M813.5,217.7 L816.3,218.4" stroke="#d4dc8a" stroke-width="0.8" fill="none" stroke-linecap="round" opacity="0.8"/><path d="M796,158 C796.3,160.3 797.3,166.7 798,172 C798.7,177.3 798.8,184.5 800,190 C801.2,195.5 803.2,200.3 805,205 C806.8,209.7 809,214 811,218 C813,222 816,227.2 817,229" stroke="#6c6046" stroke-width="1.6" fill="none" stroke-linecap="round" stroke-linejoin="round"/><path d="M796,158 C796.3,160.3 797.3,166.7 798,172 C798.7,177.3 798.8,184.5 800,190 C801.2,195.5 803.2,200.3 805,205 C806.8,209.7 809,214 811,218 C813,222 816,227.2 817,229" stroke="#dcd890" stroke-width="0.6" fill="none" stroke-linecap="round" stroke-linejoin="round" opacity="0.55"/><path d="M796,204.7 L792.2,207.1" stroke="#8a7c58" stroke-width="0.8" fill="none" stroke-linecap="round"/><path d="M794.1,205.9 L792.2,207.1" stroke="#d4dc8a" stroke-width="0.8" fill="none" stroke-linecap="round" opacity="0.8"/><path d="M800,175 C799.5,177.5 797.7,185 797,190 C796.3,195 796.2,202.5 796,205" stroke="#6c6046" stroke-width="1.1" fill="none" stroke-linecap="round" stroke-linejoin="round"/><path d="M800,175 C799.5,177.5 797.7,185 797,190 C796.3,195 796.2,202.5 796,205" stroke="#dcd890" stroke-width="0.4" fill="none" stroke-linecap="round" stroke-linejoin="round" opacity="0.55"/><path d="M818,178 C818.7,178.8 820.7,181 822,183 C823.3,185 825.3,188.8 826,190" stroke="#6c6046" stroke-width="1" fill="none" stroke-linecap="round" stroke-linejoin="round"/><path d="M818,178 C818.7,178.8 820.7,181 822,183 C823.3,185 825.3,188.8 826,190" stroke="#dcd890" stroke-width="0.3" fill="none" stroke-linecap="round" stroke-linejoin="round" opacity="0.55"/><path d="M771,214.7 L767.2,219.9" stroke="#8a7c58" stroke-width="0.8" fill="none" stroke-linecap="round"/><path d="M769.1,217.3 L767.2,219.9" stroke="#d4dc8a" stroke-width="0.8" fill="none" stroke-linecap="round" opacity="0.8"/><path d="M780.2,250.7 L784.7,252.1" stroke="#8a7c58" stroke-width="0.8" fill="none" stroke-linecap="round"/><path d="M782.4,251.4 L784.7,252.1" stroke="#d4dc8a" stroke-width="0.8" fill="none" stroke-linecap="round" opacity="0.8"/><path d="M787.7,275.1 L783.5,280.1" stroke="#8a7c58" stroke-width="0.8" fill="none" stroke-linecap="round"/><path d="M785.6,277.6 L783.5,280.1" stroke="#d4dc8a" stroke-width="0.8" fill="none" stroke-linecap="round" opacity="0.8"/><path d="M791.2,291.2 L787.7,295.1" stroke="#8a7c58" stroke-width="0.8" fill="none" stroke-linecap="round"/><path d="M789.5,293.2 L787.7,295.1" stroke="#d4dc8a" stroke-width="0.8" fill="none" stroke-linecap="round" opacity="0.8"/><path d="M762,193 C763,195 766.3,200.8 768,205 C769.7,209.2 770.7,213.5 772,218 C773.3,222.5 774.7,226.7 776,232 C777.3,237.3 778.3,244 780,250 C781.7,256 784.3,262.2 786,268 C787.7,273.8 789,280.5 790,285 C791,289.5 791.7,293.3 792,295" stroke="#6c6046" stroke-width="2.6" fill="none" stroke-linecap="round" stroke-linejoin="round"/><path d="M762,193 C763,195 766.3,200.8 768,205 C769.7,209.2 770.7,213.5 772,218 C773.3,222.5 774.7,226.7 776,232 C777.3,237.3 778.3,244 780,250 C781.7,256 784.3,262.2 786,268 C787.7,273.8 789,280.5 790,285 C791,289.5 791.7,293.3 792,295" stroke="#dcd890" stroke-width="0.9" fill="none" stroke-linecap="round" stroke-linejoin="round" opacity="0.55"/><path d="M783.4,247.8 L790,247.7" stroke="#8a7c58" stroke-width="0.8" fill="none" stroke-linecap="round"/><path d="M786.7,247.7 L790,247.7" stroke="#d4dc8a" stroke-width="0.8" fill="none" stroke-linecap="round" opacity="0.8"/><path d="M776,232 C777,234.3 779.8,242.2 782,246 C784.2,249.8 787.8,253.5 789,255" stroke="#6c6046" stroke-width="1" fill="none" stroke-linecap="round" stroke-linejoin="round"/><path d="M776,232 C777,234.3 779.8,242.2 782,246 C784.2,249.8 787.8,253.5 789,255" stroke="#dcd890" stroke-width="0.3" fill="none" stroke-linecap="round" stroke-linejoin="round" opacity="0.55"/><path d="M755.3,277.9 L760.7,278.2" stroke="#8a7c58" stroke-width="0.8" fill="none" stroke-linecap="round"/><path d="M758,278.1 L760.7,278.2" stroke="#d4dc8a" stroke-width="0.8" fill="none" stroke-linecap="round" opacity="0.8"/><path d="M762.6,291.2 L769.5,292.5" stroke="#8a7c58" stroke-width="0.8" fill="none" stroke-linecap="round"/><path d="M766,291.8 L769.5,292.5" stroke="#d4dc8a" stroke-width="0.8" fill="none" stroke-linecap="round" opacity="0.8"/><path d="M766.9,302.1 L773.1,303.9" stroke="#8a7c58" stroke-width="0.8" fill="none" stroke-linecap="round"/><path d="M770,303 L773.1,303.9" stroke="#d4dc8a" stroke-width="0.8" fill="none" stroke-linecap="round" opacity="0.8"/><path d="M768.7,306.1 L773.8,306.5" stroke="#8a7c58" stroke-width="0.8" fill="none" stroke-linecap="round"/><path d="M771.3,306.3 L773.8,306.5" stroke="#d4dc8a" stroke-width="0.8" fill="none" stroke-linecap="round" opacity="0.8"/><path d="M787.7,329.6 L785.9,336.5" stroke="#8a7c58" stroke-width="0.8" fill="none" stroke-linecap="round"/><path d="M786.8,333 L785.9,336.5" stroke="#d4dc8a" stroke-width="0.8" fill="none" stroke-linecap="round" opacity="0.8"/><path d="M744,268 C745.3,268.8 749.7,270.7 752,273 C754.3,275.3 756.2,278.8 758,282 C759.8,285.2 761.3,288.2 763,292 C764.7,295.8 766,301 768,305 C770,309 772.3,312.7 775,316 C777.7,319.3 781.8,322.7 784,325 C786.2,327.3 787.3,329.2 788,330" stroke="#6c6046" stroke-width="2.6" fill="none" stroke-linecap="round" stroke-linejoin="round"/><path d="M744,268 C745.3,268.8 749.7,270.7 752,273 C754.3,275.3 756.2,278.8 758,282 C759.8,285.2 761.3,288.2 763,292 C764.7,295.8 766,301 768,305 C770,309 772.3,312.7 775,316 C777.7,319.3 781.8,322.7 784,325 C786.2,327.3 787.3,329.2 788,330" stroke="#dcd890" stroke-width="0.9" fill="none" stroke-linecap="round" stroke-linejoin="round" opacity="0.55"/><path d="M763,292 C763.7,295 765.5,304.5 767,310 C768.5,315.5 771.2,322.5 772,325" stroke="#6c6046" stroke-width="1" fill="none" stroke-linecap="round" stroke-linejoin="round"/><path d="M763,292 C763.7,295 765.5,304.5 767,310 C768.5,315.5 771.2,322.5 772,325" stroke="#dcd890" stroke-width="0.3" fill="none" stroke-linecap="round" stroke-linejoin="round" opacity="0.55"/><path d="M692.7,184.9 L690.9,191.4" stroke="#8a7c58" stroke-width="0.8" fill="none" stroke-linecap="round"/><path d="M691.8,188.2 L690.9,191.4" stroke="#d4dc8a" stroke-width="0.8" fill="none" stroke-linecap="round" opacity="0.8"/><path d="M689.8,186.1 L688.4,191.2" stroke="#8a7c58" stroke-width="0.8" fill="none" stroke-linecap="round"/><path d="M689.1,188.6 L688.4,191.2" stroke="#d4dc8a" stroke-width="0.8" fill="none" stroke-linecap="round" opacity="0.8"/><path d="M670.6,194 L665.7,191.4" stroke="#8a7c58" stroke-width="0.8" fill="none" stroke-linecap="round"/><path d="M668.2,192.7 L665.7,191.4" stroke="#d4dc8a" stroke-width="0.8" fill="none" stroke-linecap="round" opacity="0.8"/><path d="M648.2,206.3 L647.9,214" stroke="#8a7c58" stroke-width="0.8" fill="none" stroke-linecap="round"/><path d="M648.1,210.1 L647.9,214" stroke="#d4dc8a" stroke-width="0.8" fill="none" stroke-linecap="round" opacity="0.8"/><path d="M728,166 C726,167 719.8,169.7 716,172 C712.2,174.3 709.3,177.7 705,180 C700.7,182.3 695,184 690,186 C685,188 679.7,190 675,192 C670.3,194 666.2,195.8 662,198 C657.8,200.2 653.7,202.7 650,205 C646.3,207.3 641.7,210.8 640,212" stroke="#6a5a42" stroke-width="2.4" fill="none" stroke-linecap="round" stroke-linejoin="round"/><path d="M728,166 C726,167 719.8,169.7 716,172 C712.2,174.3 709.3,177.7 705,180 C700.7,182.3 695,184 690,186 C685,188 679.7,190 675,192 C670.3,194 666.2,195.8 662,198 C657.8,200.2 653.7,202.7 650,205 C646.3,207.3 641.7,210.8 640,212" stroke="#dcd890" stroke-width="0.8" fill="none" stroke-linecap="round" stroke-linejoin="round" opacity="0.55"/><path d="M724,163 Q716,168 708,176 L711,180 Q718,173 725,171 Z" fill="#7a6a50"/><path d="M676.8,202.8 L671.9,203.1" stroke="#8a7c58" stroke-width="0.8" fill="none" stroke-linecap="round"/><path d="M674.4,202.9 L671.9,203.1" stroke="#d4dc8a" stroke-width="0.8" fill="none" stroke-linecap="round" opacity="0.8"/><path d="M690,186 C688.3,188 683,194 680,198 C677,202 674.3,206.3 672,210 C669.7,213.7 667,218.3 666,220" stroke="#6c6046" stroke-width="1.2" fill="none" stroke-linecap="round" stroke-linejoin="round"/><path d="M690,186 C688.3,188 683,194 680,198 C677,202 674.3,206.3 672,210 C669.7,213.7 667,218.3 666,220" stroke="#dcd890" stroke-width="0.4" fill="none" stroke-linecap="round" stroke-linejoin="round" opacity="0.55"/><path d="M658.2,204.3 L658.2,211.8" stroke="#8a7c58" stroke-width="0.8" fill="none" stroke-linecap="round"/><path d="M658.2,208.1 L658.2,211.8" stroke="#d4dc8a" stroke-width="0.8" fill="none" stroke-linecap="round" opacity="0.8"/><path d="M675,192 C673.2,193.3 667.2,197.7 664,200 C660.8,202.3 657.3,205 656,206" stroke="#6c6046" stroke-width="1" fill="none" stroke-linecap="round" stroke-linejoin="round"/><path d="M675,192 C673.2,193.3 667.2,197.7 664,200 C660.8,202.3 657.3,205 656,206" stroke="#dcd890" stroke-width="0.3" fill="none" stroke-linecap="round" stroke-linejoin="round" opacity="0.55"/><path d="M650.3,198.4 L648.1,203.5" stroke="#8a7c58" stroke-width="0.8" fill="none" stroke-linecap="round"/><path d="M649.2,201 L648.1,203.5" stroke="#d4dc8a" stroke-width="0.8" fill="none" stroke-linecap="round" opacity="0.8"/><path d="M662,198 C660.3,198 655,197.7 652,198 C649,198.3 645.3,199.7 644,200" stroke="#6c6046" stroke-width="0.9" fill="none" stroke-linecap="round" stroke-linejoin="round"/><path d="M662,198 C660.3,198 655,197.7 652,198 C649,198.3 645.3,199.7 644,200" stroke="#dcd890" stroke-width="0.3" fill="none" stroke-linecap="round" stroke-linejoin="round" opacity="0.55"/><path d="M694.2,199.6 L688.6,200.2" stroke="#8a7c58" stroke-width="0.8" fill="none" stroke-linecap="round"/><path d="M691.4,199.9 L688.6,200.2" stroke="#d4dc8a" stroke-width="0.8" fill="none" stroke-linecap="round" opacity="0.8"/><path d="M705,180 C704.2,181.7 701.8,186.7 700,190 C698.2,193.3 695,198.3 694,200" stroke="#6c6046" stroke-width="0.9" fill="none" stroke-linecap="round" stroke-linejoin="round"/><path d="M705,180 C704.2,181.7 701.8,186.7 700,190 C698.2,193.3 695,198.3 694,200" stroke="#dcd890" stroke-width="0.3" fill="none" stroke-linecap="round" stroke-linejoin="round" opacity="0.55"/><path d="M698.2,255.8 L691.2,257.3" stroke="#8a7c58" stroke-width="0.8" fill="none" stroke-linecap="round"/><path d="M694.7,256.6 L691.2,257.3" stroke="#d4dc8a" stroke-width="0.8" fill="none" stroke-linecap="round" opacity="0.8"/><path d="M690.3,278.9 L685,281.1" stroke="#8a7c58" stroke-width="0.8" fill="none" stroke-linecap="round"/><path d="M687.6,280 L685,281.1" stroke="#d4dc8a" stroke-width="0.8" fill="none" stroke-linecap="round" opacity="0.8"/><path d="M688.1,295.5 L691.8,299.1" stroke="#8a7c58" stroke-width="0.8" fill="none" stroke-linecap="round"/><path d="M689.9,297.3 L691.8,299.1" stroke="#d4dc8a" stroke-width="0.8" fill="none" stroke-linecap="round" opacity="0.8"/><path d="M687.4,304.5 L683.4,307" stroke="#8a7c58" stroke-width="0.8" fill="none" stroke-linecap="round"/><path d="M685.4,305.8 L683.4,307" stroke="#d4dc8a" stroke-width="0.8" fill="none" stroke-linecap="round" opacity="0.8"/><path d="M717,236 C715.3,237 709.8,239.3 707,242 C704.2,244.7 702.2,248.2 700,252 C697.8,255.8 695.7,260.3 694,265 C692.3,269.7 691,274.8 690,280 C689,285.2 688.5,291 688,296 C687.5,301 687.2,307.7 687,310" stroke="#6c6046" stroke-width="2.4" fill="none" stroke-linecap="round" stroke-linejoin="round"/><path d="M717,236 C715.3,237 709.8,239.3 707,242 C704.2,244.7 702.2,248.2 700,252 C697.8,255.8 695.7,260.3 694,265 C692.3,269.7 691,274.8 690,280 C689,285.2 688.5,291 688,296 C687.5,301 687.2,307.7 687,310" stroke="#dcd890" stroke-width="0.8" fill="none" stroke-linecap="round" stroke-linejoin="round" opacity="0.55"/><path d="M700,252 C699.5,253 697.5,257 697,258" stroke="#6c6046" stroke-width="1" fill="none" stroke-linecap="round" stroke-linejoin="round"/><path d="M700,252 C699.5,253 697.5,257 697,258" stroke="#dcd890" stroke-width="0.3" fill="none" stroke-linecap="round" stroke-linejoin="round" opacity="0.55"/><path d="M701.4,313 L705.9,317.9" stroke="#8a7c58" stroke-width="0.8" fill="none" stroke-linecap="round"/><path d="M703.6,315.4 L705.9,317.9" stroke="#d4dc8a" stroke-width="0.8" fill="none" stroke-linecap="round" opacity="0.8"/><path d="M697.1,339.5 L702.5,344.8" stroke="#8a7c58" stroke-width="0.8" fill="none" stroke-linecap="round"/><path d="M699.8,342.1 L702.5,344.8" stroke="#d4dc8a" stroke-width="0.8" fill="none" stroke-linecap="round" opacity="0.8"/><path d="M697,349.5 L691.7,353.5" stroke="#8a7c58" stroke-width="0.8" fill="none" stroke-linecap="round"/><path d="M694.3,351.5 L691.7,353.5" stroke="#d4dc8a" stroke-width="0.8" fill="none" stroke-linecap="round" opacity="0.8"/><path d="M707,296 C706.2,298.3 703.3,305.2 702,310 C700.7,314.8 699.8,320 699,325 C698.2,330 697.3,335.5 697,340 C696.7,344.5 697,350 697,352" stroke="#6c6046" stroke-width="1.1" fill="none" stroke-linecap="round" stroke-linejoin="round"/><path d="M707,296 C706.2,298.3 703.3,305.2 702,310 C700.7,314.8 699.8,320 699,325 C698.2,330 697.3,335.5 697,340 C696.7,344.5 697,350 697,352" stroke="#dcd890" stroke-width="0.4" fill="none" stroke-linecap="round" stroke-linejoin="round" opacity="0.55"/>
<clipPath id="hrc"><path d="M728,66 L724.5,85 L722.3,100 L723,120 L723.7,150 L723.5,168 L720,187 L718,215 L716,242.6 L714.4,261 L710.7,272 L709,279.6 L707,290.7 L705,305.5 L703.3,327.8 L707,343 L713,352 L720,360 L726.7,366 L726.7,366 L722,356 L715.5,343 L714.4,327.8 L718,305.5 L723.7,290.7 L731,279.6 L744,272 L752,265 L755.5,256 L759,242.6 L761.5,215 L764.4,187 L768,168 L770.5,140 L771,110 L768.5,85 L765.5,66 Z"/></clipPath>
<path d="M728,66 L724.5,85 L722.3,100 L723,120 L723.7,150 L723.5,168 L720,187 L718,215 L716,242.6 L714.4,261 L710.7,272 L709,279.6 L707,290.7 L705,305.5 L703.3,327.8 L707,343 L713,352 L720,360 L726.7,366 L726.7,366 L722,356 L715.5,343 L714.4,327.8 L718,305.5 L723.7,290.7 L731,279.6 L744,272 L752,265 L755.5,256 L759,242.6 L761.5,215 L764.4,187 L768,168 L770.5,140 L771,110 L768.5,85 L765.5,66 Z" fill="url(#hr)" stroke="#6a6420" stroke-width="0.8"/>
<filter id="bl" x="-5%" y="-5%" width="110%" height="110%"><feGaussianBlur stdDeviation="0.75"/></filter>
<g clip-path="url(#hrc)"><g filter="url(#bl)"><path d="M728.3,70.1 Q737.7,71.9 747.1,70.3" stroke="#4a4610" stroke-width="1.7" fill="none" opacity="0.6"/><path d="M755.4,70.1 Q759.6,71.9 763.7,70.4" stroke="#4a4610" stroke-width="2.3" fill="none" opacity="0.5"/><path d="M729.4,75.9 Q740.3,80.9 751.2,76.2" stroke="#4a4610" stroke-width="1.8" fill="none" opacity="0.6"/><path d="M756.6,75.9 Q761.8,80.9 767,76.4" stroke="#4a4610" stroke-width="1.9" fill="none" opacity="0.5"/><path d="M725,80.8 Q733.4,85.4 741.8,80.5" stroke="#4a4610" stroke-width="1.5" fill="none" opacity="0.6"/><path d="M749.2,80.8 Q757.7,85.4 766.1,80.4" stroke="#4a4610" stroke-width="2.2" fill="none" opacity="0.5"/><path d="M726,87.1 Q736.3,90.1 746.6,86.6" stroke="#4a4610" stroke-width="1.9" fill="none" opacity="0.6"/><path d="M757.5,87.1 Q763,90.1 768.5,87" stroke="#4a4610" stroke-width="1.8" fill="none" opacity="0.5"/><path d="M723.4,91 Q737.8,95 752.2,91.6" stroke="#4a4610" stroke-width="1.5" fill="none" opacity="0.4"/><path d="M758.3,91 Q763.1,95 767.8,91.1" stroke="#4a4610" stroke-width="1.4" fill="none" opacity="0.4"/><path d="M723.5,96.3 Q729.6,100.8 735.7,96" stroke="#4a4610" stroke-width="2.5" fill="none" opacity="0.4"/><path d="M742.1,96.3 Q755.6,100.8 769.2,96.1" stroke="#4a4610" stroke-width="1.5" fill="none" opacity="0.6"/><path d="M722.6,101.5 Q746.3,103.6 769.9,101.6" stroke="#4a4610" stroke-width="1.4" fill="none" opacity="0.5"/><path d="M724.3,106.7 Q747.5,110.1 770.8,106.6" stroke="#4a4610" stroke-width="2.3" fill="none" opacity="0.4"/><path d="M726,111.4 Q747.6,114.8 769.1,111.7" stroke="#4a4610" stroke-width="1.6" fill="none" opacity="0.5"/><path d="M723.4,116.7 Q746.6,120.3 769.8,116.1" stroke="#4a4610" stroke-width="1.6" fill="none" opacity="0.5"/><path d="M727,121.8 Q748.1,126.1 769.2,122" stroke="#4a4610" stroke-width="2.1" fill="none" opacity="0.5"/><path d="M725.3,125.9 Q747.8,128.8 770.2,125.6" stroke="#4a4610" stroke-width="1.8" fill="none" opacity="0.6"/><path d="M722.6,131.3 Q744.8,133.7 767,130.5" stroke="#4a4610" stroke-width="2.6" fill="none" opacity="0.6"/><path d="M722.4,135.9 Q735.9,137.5 749.5,135.2" stroke="#4a4610" stroke-width="2" fill="none" opacity="0.4"/><path d="M756.3,135.9 Q761.8,137.5 767.4,135.4" stroke="#4a4610" stroke-width="2.2" fill="none" opacity="0.4"/><path d="M722.8,140.5 Q727.9,142.2 732.9,140.4" stroke="#4a4610" stroke-width="2.1" fill="none" opacity="0.4"/><path d="M743.1,140.5 Q756.6,142.2 770,139.8" stroke="#4a4610" stroke-width="2.2" fill="none" opacity="0.4"/><path d="M724.5,145.6 Q745.8,150.5 767,145.3" stroke="#4a4610" stroke-width="1.6" fill="none" opacity="0.4"/><path d="M725.5,151.5 Q746.2,153.1 766.9,152.2" stroke="#4a4610" stroke-width="2" fill="none" opacity="0.6"/><path d="M725.1,155.8 Q746.4,159 767.7,155.6" stroke="#4a4610" stroke-width="1.9" fill="none" opacity="0.4"/><path d="M727.1,160.6 Q747.1,164.9 767,161.2" stroke="#4a4610" stroke-width="2.5" fill="none" opacity="0.4"/><path d="M724.6,164.2 Q744.8,167.2 765.1,164.8" stroke="#4a4610" stroke-width="1.6" fill="none" opacity="0.6"/><path d="M724.2,169.3 Q746.2,172.7 768.2,170.1" stroke="#4a4610" stroke-width="1.8" fill="none" opacity="0.6"/><path d="M725,174.3 Q745.9,176.2 766.8,173.8" stroke="#4a4610" stroke-width="2.2" fill="none" opacity="0.6"/><path d="M720.8,178.3 Q742.8,181.7 764.9,179" stroke="#4a4610" stroke-width="2" fill="none" opacity="0.5"/><path d="M723.4,183.5 Q731.1,186.4 738.8,183.2" stroke="#4a4610" stroke-width="2" fill="none" opacity="0.5"/><path d="M746.6,183.5 Q756.3,186.4 766,183.2" stroke="#4a4610" stroke-width="2.5" fill="none" opacity="0.4"/><path d="M723,190 Q728.7,192.8 734.5,190.8" stroke="#4a4610" stroke-width="2.4" fill="none" opacity="0.6"/><path d="M743.7,190 Q752.8,192.8 762,189.8" stroke="#4a4610" stroke-width="1.7" fill="none" opacity="0.5"/><path d="M722.1,195.6 Q742.7,200.4 763.2,194.8" stroke="#4a4610" stroke-width="2.2" fill="none" opacity="0.5"/><path d="M721.5,200.5 Q742.6,203.5 763.8,200.4" stroke="#4a4610" stroke-width="1.7" fill="none" opacity="0.4"/><path d="M722,206.1 Q741.3,208.1 760.7,205.4" stroke="#4a4610" stroke-width="1.7" fill="none" opacity="0.6"/><path d="M719.1,211.4 Q739.2,216.2 759.2,211.7" stroke="#4a4610" stroke-width="2" fill="none" opacity="0.5"/><path d="M720.3,216.2 Q731.9,221.2 743.5,215.8" stroke="#4a4610" stroke-width="2.2" fill="none" opacity="0.4"/><path d="M751.6,216.2 Q755.7,221.2 759.8,216.1" stroke="#4a4610" stroke-width="2.6" fill="none" opacity="0.4"/><path d="M719.1,222.2 Q738.6,224.4 758.1,222.1" stroke="#4a4610" stroke-width="2.1" fill="none" opacity="0.6"/><path d="M716.7,228.4 Q729.2,231 741.7,227.8" stroke="#4a4610" stroke-width="1.7" fill="none" opacity="0.6"/><path d="M749.2,228.4 Q754.3,231 759.4,228" stroke="#4a4610" stroke-width="1.5" fill="none" opacity="0.5"/><path d="M718.6,234.1 Q739.6,237.5 760.6,234.1" stroke="#4a4610" stroke-width="2.2" fill="none" opacity="0.6"/><path d="M716.4,237.6 Q736,240.8 755.7,238" stroke="#4a4610" stroke-width="2.5" fill="none" opacity="0.5"/><path d="M718.3,243.4 Q737.3,245.4 756.2,243.6" stroke="#4a4610" stroke-width="2.5" fill="none" opacity="0.4"/><path d="M716.2,249 Q736.2,253.2 756.3,248.5" stroke="#4a4610" stroke-width="2.1" fill="none" opacity="0.5"/><path d="M715.8,254.7 Q734.6,257.5 753.4,255.1" stroke="#4a4610" stroke-width="2.1" fill="none" opacity="0.5"/><path d="M714.4,260.5 Q723,262.4 731.6,260.5" stroke="#4a4610" stroke-width="2.1" fill="none" opacity="0.4"/><path d="M740.9,260.5 Q745.8,262.4 750.6,260.3" stroke="#4a4610" stroke-width="2.6" fill="none" opacity="0.4"/><path d="M715.7,265.3 Q719.9,268.8 724.2,266" stroke="#4a4610" stroke-width="2.4" fill="none" opacity="0.4"/><path d="M729.7,265.3 Q740.8,268.8 751.9,265.5" stroke="#4a4610" stroke-width="1.4" fill="none" opacity="0.6"/><path d="M715,270.4 Q729.2,274.1 743.4,269.7" stroke="#4a4610" stroke-width="1.5" fill="none" opacity="0.5"/><path d="M712.1,274.7 Q724.4,279 736.8,275" stroke="#4a4610" stroke-width="2.1" fill="none" opacity="0.6"/><path d="M712.4,280.9 Q716.6,283.8 720.8,281.4" stroke="#4a4610" stroke-width="2.2" fill="none" opacity="0.6"/><path d="M726.6,280.9 Q727.7,283.8 728.8,281.6" stroke="#4a4610" stroke-width="1.4" fill="none" opacity="0.6"/><path d="M709.7,285.7 Q710.6,287.3 711.4,285.8" stroke="#4a4610" stroke-width="2" fill="none" opacity="0.6"/><path d="M721,285.7 Q723.6,287.3 726.2,286.2" stroke="#4a4610" stroke-width="1.7" fill="none" opacity="0.4"/><path d="M709.9,291 Q715.8,293.1 721.7,291.7" stroke="#4a4610" stroke-width="2.2" fill="none" opacity="0.4"/><path d="M706.9,297.3 Q714.2,299.4 721.6,297.7" stroke="#4a4610" stroke-width="1.8" fill="none" opacity="0.5"/><path d="M707.5,301.9 Q713.5,304.2 719.4,302.4" stroke="#4a4610" stroke-width="2" fill="none" opacity="0.5"/><path d="M705.7,307.3 Q709.7,309.6 713.7,306.8" stroke="#4a4610" stroke-width="1.6" fill="none" opacity="0.4"/><path d="M705.8,312.5 Q710.9,315.4 716,312.5" stroke="#4a4610" stroke-width="2.2" fill="none" opacity="0.4"/><path d="M707.8,316.6 Q711.9,319.4 716,316.8" stroke="#4a4610" stroke-width="2.2" fill="none" opacity="0.5"/><path d="M704.6,321.1 Q705.3,323.6 706.1,320.4" stroke="#4a4610" stroke-width="1.5" fill="none" opacity="0.5"/><path d="M711.1,321.1 Q713.4,323.6 715.7,321.7" stroke="#4a4610" stroke-width="1.8" fill="none" opacity="0.4"/><path d="M703.5,326.6 Q708.2,330 713,326" stroke="#4a4610" stroke-width="2.4" fill="none" opacity="0.6"/><path d="M706.9,332.2 Q709.8,334.5 712.6,332.1" stroke="#4a4610" stroke-width="1.6" fill="none" opacity="0.6"/><path d="M706.2,336.8 Q705.1,338.9 704,336.4" stroke="#4a4610" stroke-width="2.4" fill="none" opacity="0.4"/><path d="M715,336.8 Q713.3,338.9 711.6,336.8" stroke="#4a4610" stroke-width="2.1" fill="none" opacity="0.4"/><path d="M707,343 Q707.4,347.3 707.7,342.5" stroke="#4a4610" stroke-width="2.1" fill="none" opacity="0.6"/><path d="M714.8,343 Q715.1,347.3 715.3,342.9" stroke="#4a4610" stroke-width="2.4" fill="none" opacity="0.4"/><path d="M712.4,346.9 Q710.6,348.6 708.9,347.4" stroke="#4a4610" stroke-width="1.4" fill="none" opacity="0.6"/><path d="M718.5,346.9 Q716.5,348.6 714.5,347.5" stroke="#4a4610" stroke-width="1.7" fill="none" opacity="0.6"/><path d="M712.2,351.3 Q714,356 715.8,351.9" stroke="#4a4610" stroke-width="1.9" fill="none" opacity="0.5"/><path d="M716.5,356.4 Q718.3,359.3 720.1,356.4" stroke="#4a4610" stroke-width="1.7" fill="none" opacity="0.6"/><path d="M724.1,361.5 Q721.4,365.8 718.7,361" stroke="#4a4610" stroke-width="2.6" fill="none" opacity="0.4"/><path d="M728.3,361.5 Q724.8,365.8 721.2,360.9" stroke="#4a4610" stroke-width="1.5" fill="none" opacity="0.6"/><path d="M738.6,72.1 Q742.8,73.9 746.9,72.1" stroke="#f6f080" stroke-width="1.8" fill="none" opacity="0.7"/><path d="M733.4,82.8 Q741.5,87.4 749.6,82.8" stroke="#f6f080" stroke-width="1.2" fill="none" opacity="0.7"/><path d="M734.9,89.1 Q744.5,92.1 754.2,89.1" stroke="#f6f080" stroke-width="1.4" fill="none" opacity="0.7"/><path d="M740.4,93 Q749.5,97 758.7,93" stroke="#f6f080" stroke-width="1.4" fill="none" opacity="0.7"/><path d="M732.2,108.7 Q737.1,112.1 742,108.7" stroke="#f6f080" stroke-width="1.8" fill="none" opacity="0.7"/><path d="M730.7,113.4 Q737.7,116.8 744.7,113.4" stroke="#f6f080" stroke-width="1.8" fill="none" opacity="0.7"/><path d="M738.3,127.9 Q744.4,130.8 750.5,127.9" stroke="#f6f080" stroke-width="1.8" fill="none" opacity="0.7"/><path d="M731.9,142.5 Q741.4,144.2 751,142.5" stroke="#f6f080" stroke-width="1.5" fill="none" opacity="0.7"/><path d="M735.6,147.6 Q745.8,152.5 755.9,147.6" stroke="#f6f080" stroke-width="1.1" fill="none" opacity="0.7"/><path d="M734.4,153.5 Q744.1,155.1 753.8,153.5" stroke="#f6f080" stroke-width="1.6" fill="none" opacity="0.7"/><path d="M739.1,157.8 Q746.6,161 754.1,157.8" stroke="#f6f080" stroke-width="2" fill="none" opacity="0.7"/><path d="M737.2,166.2 Q742.8,169.2 748.3,166.2" stroke="#f6f080" stroke-width="1.7" fill="none" opacity="0.7"/><path d="M730.7,176.3 Q739.9,178.2 749.2,176.3" stroke="#f6f080" stroke-width="1" fill="none" opacity="0.7"/><path d="M728.1,208.1 Q734.8,210.1 741.6,208.1" stroke="#f6f080" stroke-width="1.4" fill="none" opacity="0.7"/><path d="M724.7,218.2 Q734.3,223.2 744,218.2" stroke="#f6f080" stroke-width="1.5" fill="none" opacity="0.7"/><path d="M733,224.2 Q739,226.4 745,224.2" stroke="#f6f080" stroke-width="1.4" fill="none" opacity="0.7"/><path d="M726.9,230.4 Q732.3,233 737.7,230.4" stroke="#f6f080" stroke-width="1.9" fill="none" opacity="0.7"/><path d="M730,236.1 Q735.2,239.5 740.4,236.1" stroke="#f6f080" stroke-width="1.5" fill="none" opacity="0.7"/><path d="M725.6,239.6 Q730.3,242.8 735,239.6" stroke="#f6f080" stroke-width="1.1" fill="none" opacity="0.7"/><path d="M724,245.4 Q731.4,247.4 738.7,245.4" stroke="#f6f080" stroke-width="1.5" fill="none" opacity="0.7"/><path d="M725.4,251 Q731.7,255.2 738,251" stroke="#f6f080" stroke-width="2" fill="none" opacity="0.7"/><path d="M724.9,256.7 Q733.3,259.5 741.7,256.7" stroke="#f6f080" stroke-width="1.9" fill="none" opacity="0.7"/><path d="M727.4,262.5 Q732.5,264.4 737.5,262.5" stroke="#f6f080" stroke-width="1.4" fill="none" opacity="0.7"/><path d="M720.8,272.4 Q727,276.1 733.1,272.4" stroke="#f6f080" stroke-width="1.8" fill="none" opacity="0.7"/><path d="M714.7,276.7 Q720.8,281 726.8,276.7" stroke="#f6f080" stroke-width="1.8" fill="none" opacity="0.7"/><path d="M708.4,314.5 Q710.8,317.4 713.2,314.5" stroke="#f6f080" stroke-width="1.4" fill="none" opacity="0.7"/><path d="M705.1,328.6 Q706.9,332 708.7,328.6" stroke="#f6f080" stroke-width="1.2" fill="none" opacity="0.7"/><path d="M708,334.2 Q709.5,336.5 711.1,334.2" stroke="#f6f080" stroke-width="1.6" fill="none" opacity="0.7"/><path d="M709.2,338.8 Q711.1,340.9 713,338.8" stroke="#f6f080" stroke-width="1.3" fill="none" opacity="0.7"/><path d="M709.6,345 Q710.9,349.3 712.2,345" stroke="#f6f080" stroke-width="1.5" fill="none" opacity="0.7"/><path d="M712.5,348.9 Q714.2,350.6 715.9,348.9" stroke="#f6f080" stroke-width="1.9" fill="none" opacity="0.7"/><path d="M713.9,353.3 Q715.5,358 717,353.3" stroke="#f6f080" stroke-width="1.6" fill="none" opacity="0.7"/><path d="M718.5,358.4 Q719.7,361.3 720.8,358.4" stroke="#f6f080" stroke-width="1.1" fill="none" opacity="0.7"/><path d="M722.4,363.5 Q722.8,367.8 723.2,363.5" stroke="#f6f080" stroke-width="1.7" fill="none" opacity="0.7"/></g><path d="M715,60 L728,60 L726,140 L724,240 L716,300 L712,370 L700,370 Z" fill="#3e3e0c" opacity="0.32"/><path d="M760,60 L780,60 L770,200 L760,260 L740,300 L724,370 L735,370 L780,370 L780,60 Z" fill="#3e3e0c" opacity="0.28"/><path d="M715,60 L780,60 L780,78 Q760,84 745,80 Q730,84 715,78 Z" fill="#4a3a10" opacity="0.55"/><path d="M700,312 L730,312 L730,370 L700,370 Z" fill="#4a4a14" opacity="0.5"/><path d="M700,285 L712,285 L710,312 L700,312 Z" fill="#4a4a14" opacity="0.3"/><path d="M738,80 Q745,76 750,80 L748,110 Q745,104 740,110 Z" fill="#b88060" opacity="0.25"/></g>
<ellipse cx="765" cy="136" rx="5" ry="4" fill="#8a6050"/><ellipse cx="766" cy="134.5" rx="3" ry="1.6" fill="#b89080" opacity="0.8"/>
<ellipse cx="726" cy="167" rx="3.5" ry="4.5" fill="#7a6a50"/><ellipse cx="725.5" cy="165.5" rx="1.6" ry="2.4" fill="#b0a078" opacity="0.8"/>
<path d="M723.8,19 L729,25 L735,20 L741,24 L746,17 L749,16 L752,6 L754,4.4 L756,12 L759,6.6 L761,10 L763.3,14.6 L765.5,29 L767,48 L766.2,58.6 Q765,65 761.8,65.9 Q756,68.5 751.6,68 L740,68.8 Q733,68 729.6,63 L726,44 Z" fill="#5c3419"/>
<path d="M748,16 L752,6 L754,4.4 L756,12 L759,6.6 L763.3,14.6 L765.5,29 L767,48 L766.2,58.6 Q765,65 761.8,65.9 Q756,68.5 751.6,68 L747,68 Q745,40 748,16 Z" fill="#43200f"/>
<path d="M724.5,21 Q729,17 733,20 Q738,16 742,19 Q745,17 747.5,19 L747.5,40 Q736,35 725.5,40 Z" fill="#a88c50"/><path d="M725,27 Q736,22.5 747.5,27.5" stroke="#6a4620" stroke-width="1.4" fill="none" stroke-linecap="round"/><path d="M725,33.5 Q736,29 747.5,34" stroke="#6a4620" stroke-width="1.5" fill="none" stroke-linecap="round"/><path d="M725,40 Q736,35.5 747.5,40.5" stroke="#5a3a1a" stroke-width="1.8" fill="none" stroke-linecap="round"/><path d="M726,46 Q737,41.5 747,46.5" stroke="#8a6a3a" stroke-width="1.8" fill="none" stroke-linecap="round"/><path d="M726,52.5 Q737,48 747,53" stroke="#7e5e34" stroke-width="1.8" fill="none" stroke-linecap="round"/><path d="M726,59 Q737,54.5 747,59.5" stroke="#6e502c" stroke-width="1.6" fill="none" stroke-linecap="round"/><path d="M749,17 L752,6 L754,4.4 L756,12 L759,6.6 L761,10 L763.3,14.6 L764.5,22 Q756,18 749,22 Z" fill="#8a6a3a" opacity="0.8"/>
<path d="M750,18 L752.5,6 M753,17 L755,9 M756,18 L759,8 M759,19 L762,13" stroke="#a88850" stroke-width="1" fill="none" opacity="0.8"/>
<path d="M752,22 Q758,40 756,62" stroke="#5e2e1a" stroke-width="2" fill="none" opacity="0.6"/>
<path d="M727.7,67.6 C725.9,66.4 720.5,60.1 717,60.7 C713.5,61.4 710.1,66.8 707,71.5 C703.9,76.2 701.3,82.8 698.4,89 C695.5,95.2 692,100.8 689.6,108.6 C687.2,116.4 684.8,131.4 683.8,136" stroke="#b4d448" stroke-width="2.6" fill="none" stroke-linecap="round" stroke-linejoin="round"/><path d="M727.7,67.6 C725.9,66.4 720.5,60.1 717,60.7 C713.5,61.4 710.1,66.8 707,71.5 C703.9,76.2 701.3,82.8 698.4,89 C695.5,95.2 692,100.8 689.6,108.6 C687.2,116.4 684.8,131.4 683.8,136" stroke="#6a8a20" stroke-width="0.8" fill="none" stroke-linecap="round" opacity="0.35" transform="translate(0.6,0.4)"/><path d="M727.7,67.6 C725.9,66.4 720.5,60.1 717,60.7 C713.5,61.4 710.1,66.8 707,71.5 C703.9,76.2 701.3,82.8 698.4,89 C695.5,95.2 692,100.8 689.6,108.6 C687.2,116.4 684.8,131.4 683.8,136" stroke="#e6f4a0" stroke-width="0.9" fill="none" stroke-linecap="round" opacity="0.8"/><path d="M730,70 C728.2,69.9 723.3,67.3 719,69.5 C714.7,71.7 709.7,78.8 704.3,83 C698.9,87.2 691.6,91.4 686.7,95 C681.8,98.6 679.1,102.2 675,104.7 C670.9,107.2 664.2,109.1 662,110" stroke="#c4dc80" stroke-width="1.5" fill="none" stroke-linecap="round" stroke-linejoin="round"/><path d="M730,70 C728.2,69.9 723.3,67.3 719,69.5 C714.7,71.7 709.7,78.8 704.3,83 C698.9,87.2 691.6,91.4 686.7,95 C681.8,98.6 679.1,102.2 675,104.7 C670.9,107.2 664.2,109.1 662,110" stroke="#6a8a20" stroke-width="0.4" fill="none" stroke-linecap="round" opacity="0.35" transform="translate(0.6,0.4)"/><path d="M730,70 C728.2,69.9 723.3,67.3 719,69.5 C714.7,71.7 709.7,78.8 704.3,83 C698.9,87.2 691.6,91.4 686.7,95 C681.8,98.6 679.1,102.2 675,104.7 C670.9,107.2 664.2,109.1 662,110" stroke="#e6f4a0" stroke-width="0.5" fill="none" stroke-linecap="round" opacity="0.8"/><path d="M733,70 C731.1,70.9 724.6,70.6 721.9,75.4 C719.2,80.2 718,90.7 717,98.8 C716,106.9 716.8,115.8 716,124 C715.2,132.2 712.7,143.8 712,147.7" stroke="#b4d448" stroke-width="2.4" fill="none" stroke-linecap="round" stroke-linejoin="round"/><path d="M733,70 C731.1,70.9 724.6,70.6 721.9,75.4 C719.2,80.2 718,90.7 717,98.8 C716,106.9 716.8,115.8 716,124 C715.2,132.2 712.7,143.8 712,147.7" stroke="#6a8a20" stroke-width="0.7" fill="none" stroke-linecap="round" opacity="0.35" transform="translate(0.6,0.4)"/><path d="M733,70 C731.1,70.9 724.6,70.6 721.9,75.4 C719.2,80.2 718,90.7 717,98.8 C716,106.9 716.8,115.8 716,124 C715.2,132.2 712.7,143.8 712,147.7" stroke="#e6f4a0" stroke-width="0.8" fill="none" stroke-linecap="round" opacity="0.8"/><path d="M743.4,67.6 C742.9,69.5 740.7,73.1 740.4,79.3 C740.1,85.5 741.1,96.6 741.4,104.7 C741.7,112.8 742.2,124.1 742.4,128" stroke="#b4d448" stroke-width="2.8" fill="none" stroke-linecap="round" stroke-linejoin="round"/><path d="M743.4,67.6 C742.9,69.5 740.7,73.1 740.4,79.3 C740.1,85.5 741.1,96.6 741.4,104.7 C741.7,112.8 742.2,124.1 742.4,128" stroke="#6a8a20" stroke-width="0.8" fill="none" stroke-linecap="round" opacity="0.35" transform="translate(0.6,0.4)"/><path d="M743.4,67.6 C742.9,69.5 740.7,73.1 740.4,79.3 C740.1,85.5 741.1,96.6 741.4,104.7 C741.7,112.8 742.2,124.1 742.4,128" stroke="#e6f4a0" stroke-width="1" fill="none" stroke-linecap="round" opacity="0.8"/><path d="M750.2,66.6 C750.8,68.4 753.4,71.6 754,77.3 C754.6,83 754.2,93.3 754,100.8 C753.8,108.3 753.2,118.7 753,122.3" stroke="#b4d448" stroke-width="2.8" fill="none" stroke-linecap="round" stroke-linejoin="round"/><path d="M750.2,66.6 C750.8,68.4 753.4,71.6 754,77.3 C754.6,83 754.2,93.3 754,100.8 C753.8,108.3 753.2,118.7 753,122.3" stroke="#6a8a20" stroke-width="0.8" fill="none" stroke-linecap="round" opacity="0.35" transform="translate(0.6,0.4)"/><path d="M750.2,66.6 C750.8,68.4 753.4,71.6 754,77.3 C754.6,83 754.2,93.3 754,100.8 C753.8,108.3 753.2,118.7 753,122.3" stroke="#e6f4a0" stroke-width="1" fill="none" stroke-linecap="round" opacity="0.8"/><path d="M761,69.5 C762.1,70.8 765.8,73 767.8,77.3 C769.8,81.5 770.6,89.1 772.7,95 C774.8,100.9 777.9,107.3 780.5,112.5 C783.1,117.7 787,123.9 788.3,126.2" stroke="#b4d448" stroke-width="2.4" fill="none" stroke-linecap="round" stroke-linejoin="round"/><path d="M761,69.5 C762.1,70.8 765.8,73 767.8,77.3 C769.8,81.5 770.6,89.1 772.7,95 C774.8,100.9 777.9,107.3 780.5,112.5 C783.1,117.7 787,123.9 788.3,126.2" stroke="#6a8a20" stroke-width="0.7" fill="none" stroke-linecap="round" opacity="0.35" transform="translate(0.6,0.4)"/><path d="M761,69.5 C762.1,70.8 765.8,73 767.8,77.3 C769.8,81.5 770.6,89.1 772.7,95 C774.8,100.9 777.9,107.3 780.5,112.5 C783.1,117.7 787,123.9 788.3,126.2" stroke="#e6f4a0" stroke-width="0.8" fill="none" stroke-linecap="round" opacity="0.8"/><path d="M766.8,68.6 C768.8,67.9 774.9,64.1 778.5,64.6 C782.1,65.1 785.7,68.1 788.3,71.5 C790.9,74.9 792.4,79.5 794,85 C795.6,90.5 796.7,98.2 798,104.7 C799.3,111.2 800.4,118.8 802,124 C803.6,129.2 806.8,134 807.8,136" stroke="#b4d448" stroke-width="2.6" fill="none" stroke-linecap="round" stroke-linejoin="round"/><path d="M766.8,68.6 C768.8,67.9 774.9,64.1 778.5,64.6 C782.1,65.1 785.7,68.1 788.3,71.5 C790.9,74.9 792.4,79.5 794,85 C795.6,90.5 796.7,98.2 798,104.7 C799.3,111.2 800.4,118.8 802,124 C803.6,129.2 806.8,134 807.8,136" stroke="#6a8a20" stroke-width="0.8" fill="none" stroke-linecap="round" opacity="0.35" transform="translate(0.6,0.4)"/><path d="M766.8,68.6 C768.8,67.9 774.9,64.1 778.5,64.6 C782.1,65.1 785.7,68.1 788.3,71.5 C790.9,74.9 792.4,79.5 794,85 C795.6,90.5 796.7,98.2 798,104.7 C799.3,111.2 800.4,118.8 802,124 C803.6,129.2 806.8,134 807.8,136" stroke="#e6f4a0" stroke-width="0.9" fill="none" stroke-linecap="round" opacity="0.8"/><path d="M765,70 C766.3,70.2 770,68.3 772.6,71.5 C775.2,74.7 778.5,83.5 780.5,89 C782.5,94.5 783.5,99.9 784.4,104.7 C785.3,109.5 785.7,115.8 786,118" stroke="#b4d448" stroke-width="2.0" fill="none" stroke-linecap="round" stroke-linejoin="round"/><path d="M765,70 C766.3,70.2 770,68.3 772.6,71.5 C775.2,74.7 778.5,83.5 780.5,89 C782.5,94.5 783.5,99.9 784.4,104.7 C785.3,109.5 785.7,115.8 786,118" stroke="#6a8a20" stroke-width="0.6" fill="none" stroke-linecap="round" opacity="0.35" transform="translate(0.6,0.4)"/><path d="M765,70 C766.3,70.2 770,68.3 772.6,71.5 C775.2,74.7 778.5,83.5 780.5,89 C782.5,94.5 783.5,99.9 784.4,104.7 C785.3,109.5 785.7,115.8 786,118" stroke="#e6f4a0" stroke-width="0.7" fill="none" stroke-linecap="round" opacity="0.8"/>
<path d="M670,58.5 L711.5,65 M670,58.5 L719,82.3" stroke="#555" stroke-width="1" fill="none"/>
<path d="M767,47 L792.3,47" stroke="#555" stroke-width="1" fill="none"/>
<path d="M698,158 L724.5,150" stroke="#555" stroke-width="1" fill="none"/>
<path d="M699.6,199.7 L669.7,239.6 L706,237" stroke="#555" stroke-width="1" fill="none"/>
</svg>
<div class="s" style="left:40.5px;top:56px;font-size:17.5px;">7</div>
<div class="s" style="left:2.5px;top:124.5px;font-size:21.5px;letter-spacing:1.4px;line-height:21px;background:#fff;">Корневой</div>
<div class="s" style="left:18px;top:146.2px;font-size:21.5px;letter-spacing:1.4px;line-height:21px;">чехлик</div>
<div class="s z" style="right:573.6px;top:84.1px;">Зона<br>проведения</div>
<div class="s z" style="right:573.6px;top:156.1px;">Зона<br>всасывания</div>
<div class="s z" style="right:573.6px;top:208.3px;">Зона<br>роста</div>
<div class="s z" style="left:476px;top:217.3px;text-align:left;"><span style="background:#fff">Зона</span><br><span style="background:#fff">деления</span></div>
<div class="s" style="left:592px;top:12.8px;font-size:17.5px;">6</div>
<div class="t" style="left:600px;top:31.8px;line-height:21.6px;">придаточные<br>корни</div>
<div class="t" style="left:809px;top:33.5px;">стебель</div>
<div class="t" style="left:602px;top:139.7px;line-height:20.8px;">главный<br>корень</div>
<div class="t" style="left:605px;top:246px;">боковые</div>
<div class="t" style="left:610px;top:267.7px;">корни</div>
<div class="s" style="left:82px;top:474.2px;font-size:8px;letter-spacing:-0.35px;font-weight:bold;font-style:italic;color:#333;">СТЕРЖНЕВЫЕ</div>
<div class="s" style="left:231.5px;top:474px;font-size:8.2px;letter-spacing:0.15px;font-weight:bold;font-style:italic;color:#333;">МОЧКОВАТАЯ</div>
<div class="s" style="left:57.5px;top:325.5px;font-size:18px;letter-spacing:1.2px;">2-5</div>
<div class="s" style="left:104px;top:330px;font-size:12px;font-weight:bold;letter-spacing:-0.1px;color:#222;">Корневые системы</div>
</body></html>
